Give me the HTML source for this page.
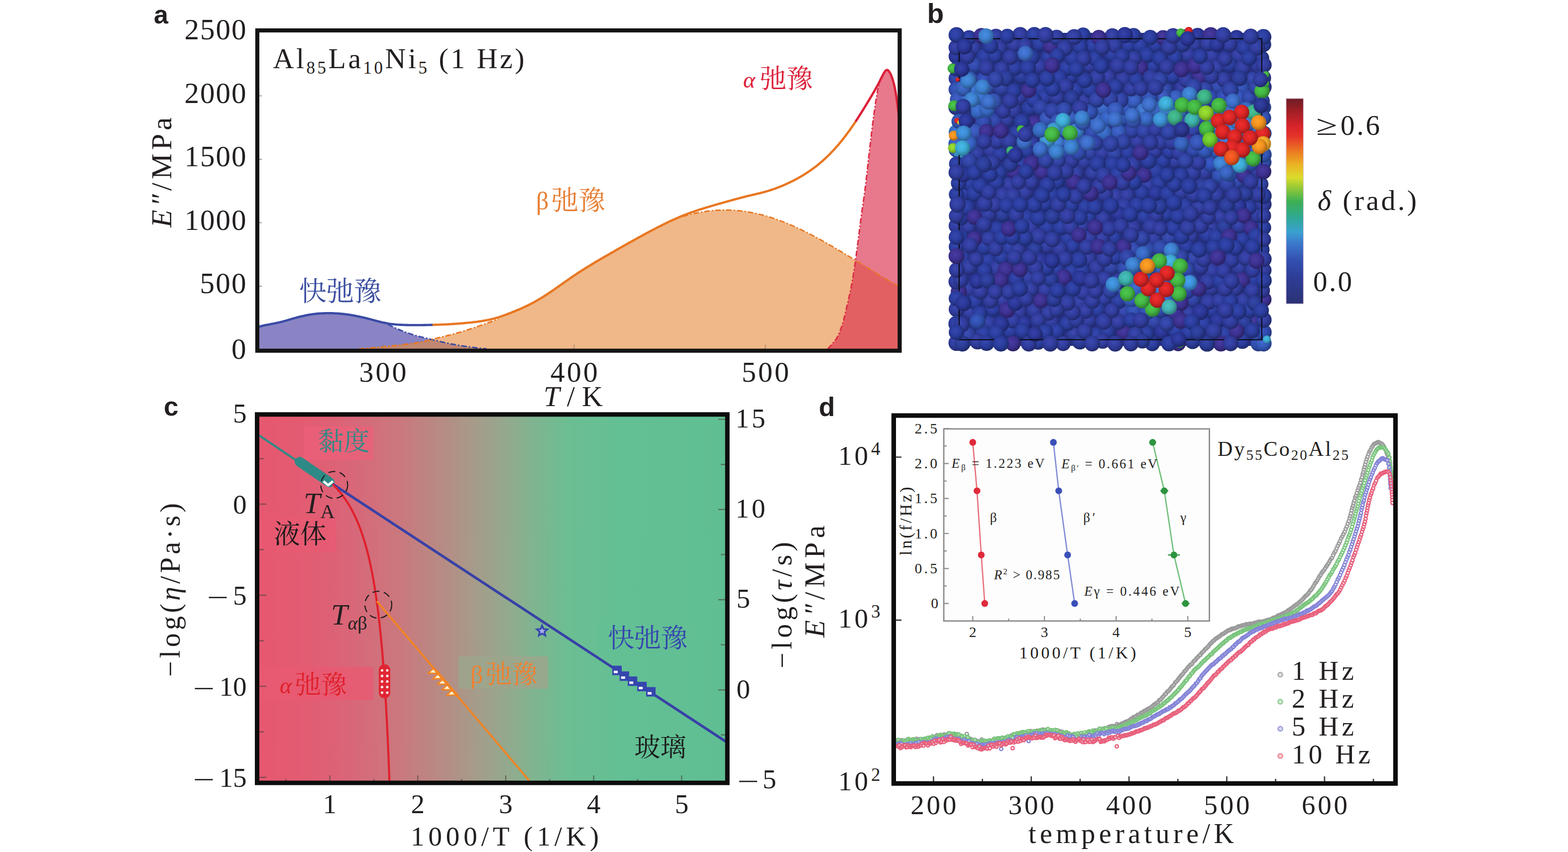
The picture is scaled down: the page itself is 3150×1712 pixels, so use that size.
<!DOCTYPE html>
<html><head><meta charset="utf-8"><title>Figure</title>
<style>
html,body{margin:0;padding:0;background:#fff}
body{width:3150px;height:1712px;overflow:hidden;font-family:"Liberation Serif",serif}
svg{display:block}
</style></head><body>
<svg width="3150" height="1712" viewBox="0 0 3150 1712" font-family="Liberation Serif, serif" fill="#231f20">
<defs>
<radialGradient id="a0" cx="0.42" cy="0.4" r="0.6"><stop offset="0" stop-color="#483ba3"/><stop offset="0.55" stop-color="#3c3090"/><stop offset="1" stop-color="#2a2164"/></radialGradient>
<radialGradient id="a1" cx="0.42" cy="0.4" r="0.6"><stop offset="0" stop-color="#427cdd"/><stop offset="0.55" stop-color="#366cc6"/><stop offset="1" stop-color="#254b8a"/></radialGradient>
<radialGradient id="a2" cx="0.42" cy="0.4" r="0.6"><stop offset="0" stop-color="#426fd0"/><stop offset="0.55" stop-color="#3660ba"/><stop offset="1" stop-color="#254382"/></radialGradient>
<radialGradient id="a3" cx="0.42" cy="0.4" r="0.6"><stop offset="0" stop-color="#3548b0"/><stop offset="0.55" stop-color="#2a3c9c"/><stop offset="1" stop-color="#1d2a6d"/></radialGradient>
<radialGradient id="a4" cx="0.42" cy="0.4" r="0.6"><stop offset="0" stop-color="#3b48b0"/><stop offset="0.55" stop-color="#303c9c"/><stop offset="1" stop-color="#212a6d"/></radialGradient>
<radialGradient id="a5" cx="0.42" cy="0.4" r="0.6"><stop offset="0" stop-color="#3b4fb6"/><stop offset="0.55" stop-color="#3042a2"/><stop offset="1" stop-color="#212e71"/></radialGradient>
<radialGradient id="a6" cx="0.42" cy="0.4" r="0.6"><stop offset="0" stop-color="#3b55bd"/><stop offset="0.55" stop-color="#3048a8"/><stop offset="1" stop-color="#213275"/></radialGradient>
<radialGradient id="a7" cx="0.42" cy="0.4" r="0.6"><stop offset="0" stop-color="#3542aa"/><stop offset="0.55" stop-color="#2a3696"/><stop offset="1" stop-color="#1d2569"/></radialGradient>
<radialGradient id="a8" cx="0.42" cy="0.4" r="0.6"><stop offset="0" stop-color="#4269d0"/><stop offset="0.55" stop-color="#365aba"/><stop offset="1" stop-color="#253e82"/></radialGradient>
<radialGradient id="a9" cx="0.42" cy="0.4" r="0.6"><stop offset="0" stop-color="#487cdd"/><stop offset="0.55" stop-color="#3c6cc6"/><stop offset="1" stop-color="#2a4b8a"/></radialGradient>
<radialGradient id="a10" cx="0.42" cy="0.4" r="0.6"><stop offset="0" stop-color="#3548aa"/><stop offset="0.55" stop-color="#2a3c96"/><stop offset="1" stop-color="#1d2a69"/></radialGradient>
<radialGradient id="a11" cx="0.42" cy="0.4" r="0.6"><stop offset="0" stop-color="#3b55c3"/><stop offset="0.55" stop-color="#3048ae"/><stop offset="1" stop-color="#213279"/></radialGradient>
<radialGradient id="a12" cx="0.42" cy="0.4" r="0.6"><stop offset="0" stop-color="#4262ca"/><stop offset="0.55" stop-color="#3654b4"/><stop offset="1" stop-color="#253a7d"/></radialGradient>
<radialGradient id="a13" cx="0.42" cy="0.4" r="0.6"><stop offset="0" stop-color="#3b5cc3"/><stop offset="0.55" stop-color="#304eae"/><stop offset="1" stop-color="#213679"/></radialGradient>
<radialGradient id="a14" cx="0.42" cy="0.4" r="0.6"><stop offset="0" stop-color="#4883e4"/><stop offset="0.55" stop-color="#3c72cc"/><stop offset="1" stop-color="#2a4f8e"/></radialGradient>
<radialGradient id="a15" cx="0.42" cy="0.4" r="0.6"><stop offset="0" stop-color="#4276d7"/><stop offset="0.55" stop-color="#3666c0"/><stop offset="1" stop-color="#254786"/></radialGradient>
<radialGradient id="a16" cx="0.42" cy="0.4" r="0.6"><stop offset="0" stop-color="#426fd7"/><stop offset="0.55" stop-color="#3660c0"/><stop offset="1" stop-color="#254386"/></radialGradient>
<radialGradient id="a17" cx="0.42" cy="0.4" r="0.6"><stop offset="0" stop-color="#3b62ca"/><stop offset="0.55" stop-color="#3054b4"/><stop offset="1" stop-color="#213a7d"/></radialGradient>
<radialGradient id="a18" cx="0.42" cy="0.4" r="0.6"><stop offset="0" stop-color="#4269ca"/><stop offset="0.55" stop-color="#365ab4"/><stop offset="1" stop-color="#253e7d"/></radialGradient>
<radialGradient id="a19" cx="0.42" cy="0.4" r="0.6"><stop offset="0" stop-color="#4889e4"/><stop offset="0.55" stop-color="#3c78cc"/><stop offset="1" stop-color="#2a548e"/></radialGradient>
<radialGradient id="a20" cx="0.42" cy="0.4" r="0.6"><stop offset="0" stop-color="#4883dd"/><stop offset="0.55" stop-color="#3c72c6"/><stop offset="1" stop-color="#2a4f8a"/></radialGradient>
<radialGradient id="a21" cx="0.42" cy="0.4" r="0.6"><stop offset="0" stop-color="#48aae4"/><stop offset="0.55" stop-color="#3c96cc"/><stop offset="1" stop-color="#2a698e"/></radialGradient>
<radialGradient id="a22" cx="0.42" cy="0.4" r="0.6"><stop offset="0" stop-color="#4890e4"/><stop offset="0.55" stop-color="#3c7ecc"/><stop offset="1" stop-color="#2a588e"/></radialGradient>
<radialGradient id="a23" cx="0.42" cy="0.4" r="0.6"><stop offset="0" stop-color="#48a3e4"/><stop offset="0.55" stop-color="#3c90cc"/><stop offset="1" stop-color="#2a648e"/></radialGradient>
<radialGradient id="a24" cx="0.42" cy="0.4" r="0.6"><stop offset="0" stop-color="#3b5cca"/><stop offset="0.55" stop-color="#304eb4"/><stop offset="1" stop-color="#21367d"/></radialGradient>
<radialGradient id="a25" cx="0.42" cy="0.4" r="0.6"><stop offset="0" stop-color="#427cd7"/><stop offset="0.55" stop-color="#366cc0"/><stop offset="1" stop-color="#254b86"/></radialGradient>
<radialGradient id="a26" cx="0.42" cy="0.4" r="0.6"><stop offset="0" stop-color="#48a3ea"/><stop offset="0.55" stop-color="#3c90d2"/><stop offset="1" stop-color="#2a6493"/></radialGradient>
<radialGradient id="a27" cx="0.42" cy="0.4" r="0.6"><stop offset="0" stop-color="#48bdea"/><stop offset="0.55" stop-color="#3ca8d2"/><stop offset="1" stop-color="#2a7593"/></radialGradient>
<radialGradient id="a28" cx="0.42" cy="0.4" r="0.6"><stop offset="0" stop-color="#48c396"/><stop offset="0.55" stop-color="#3cae84"/><stop offset="1" stop-color="#2a795c"/></radialGradient>
<radialGradient id="a29" cx="0.42" cy="0.4" r="0.6"><stop offset="0" stop-color="#48c3bd"/><stop offset="0.55" stop-color="#3caea8"/><stop offset="1" stop-color="#2a7975"/></radialGradient>
<radialGradient id="a30" cx="0.42" cy="0.4" r="0.6"><stop offset="0" stop-color="#4fca4f"/><stop offset="0.55" stop-color="#42b442"/><stop offset="1" stop-color="#2e7d2e"/></radialGradient>
<radialGradient id="a31" cx="0.42" cy="0.4" r="0.6"><stop offset="0" stop-color="#7cdd35"/><stop offset="0.55" stop-color="#6cc62a"/><stop offset="1" stop-color="#4b8a1d"/></radialGradient>
<radialGradient id="a32" cx="0.42" cy="0.4" r="0.6"><stop offset="0" stop-color="#9de435"/><stop offset="0.55" stop-color="#8acc2a"/><stop offset="1" stop-color="#608e1d"/></radialGradient>
<radialGradient id="a33" cx="0.42" cy="0.4" r="0.6"><stop offset="0" stop-color="#3542a3"/><stop offset="0.55" stop-color="#2a3690"/><stop offset="1" stop-color="#1d2564"/></radialGradient>
<radialGradient id="a34" cx="0.42" cy="0.4" r="0.6"><stop offset="0" stop-color="#f12e2e"/><stop offset="0.55" stop-color="#d82424"/><stop offset="1" stop-color="#971919"/></radialGradient>
<radialGradient id="a35" cx="0.42" cy="0.4" r="0.6"><stop offset="0" stop-color="#ffa328"/><stop offset="0.55" stop-color="#f0901e"/><stop offset="1" stop-color="#a86415"/></radialGradient>
<radialGradient id="a36" cx="0.42" cy="0.4" r="0.6"><stop offset="0" stop-color="#ffbd35"/><stop offset="0.55" stop-color="#f0a82a"/><stop offset="1" stop-color="#a8751d"/></radialGradient>
<radialGradient id="a37" cx="0.42" cy="0.4" r="0.6"><stop offset="0" stop-color="#ff6228"/><stop offset="0.55" stop-color="#ea541e"/><stop offset="1" stop-color="#a33a15"/></radialGradient>
<radialGradient id="a38" cx="0.42" cy="0.4" r="0.6"><stop offset="0" stop-color="#489dea"/><stop offset="0.55" stop-color="#3c8ad2"/><stop offset="1" stop-color="#2a6093"/></radialGradient>
<radialGradient id="a39" cx="0.42" cy="0.4" r="0.6"><stop offset="0" stop-color="#48a3f1"/><stop offset="0.55" stop-color="#3c90d8"/><stop offset="1" stop-color="#2a6497"/></radialGradient>
<radialGradient id="a40" cx="0.42" cy="0.4" r="0.6"><stop offset="0" stop-color="#4fc3c3"/><stop offset="0.55" stop-color="#42aeae"/><stop offset="1" stop-color="#2e7979"/></radialGradient>
<radialGradient id="a41" cx="0.42" cy="0.4" r="0.6"><stop offset="0" stop-color="#fff73b"/><stop offset="0.55" stop-color="#eade30"/><stop offset="1" stop-color="#a39b21"/></radialGradient>
<radialGradient id="a42" cx="0.42" cy="0.4" r="0.6"><stop offset="0" stop-color="#48c37c"/><stop offset="0.55" stop-color="#3cae6c"/><stop offset="1" stop-color="#2a794b"/></radialGradient>
<linearGradient id="cb" x1="0" y1="0" x2="0" y2="1"><stop offset="0" stop-color="#6e1c24"/><stop offset="0.06" stop-color="#a01f25"/><stop offset="0.135" stop-color="#d9232a"/><stop offset="0.184" stop-color="#e4342a"/><stop offset="0.257" stop-color="#ec7a22"/><stop offset="0.322" stop-color="#ebb324"/><stop offset="0.384" stop-color="#dcdc2c"/><stop offset="0.429" stop-color="#9ccb34"/><stop offset="0.502" stop-color="#3db054"/><stop offset="0.584" stop-color="#2ea896"/><stop offset="0.649" stop-color="#3aa2d0"/><stop offset="0.706" stop-color="#3c78cc"/><stop offset="0.788" stop-color="#3350b0"/><stop offset="0.869" stop-color="#2e3e98"/><stop offset="1" stop-color="#2b3274"/></linearGradient>
<linearGradient id="cg" gradientUnits="userSpaceOnUse" x1="521" y1="0" x2="1457" y2="0"><stop offset="0.0000" stop-color="#e6586f"/><stop offset="0.1058" stop-color="#e25c72"/><stop offset="0.1870" stop-color="#da6578"/><stop offset="0.3066" stop-color="#c9797e"/><stop offset="0.3868" stop-color="#b88a84"/><stop offset="0.4658" stop-color="#a59c8a"/><stop offset="0.5459" stop-color="#8fac8e"/><stop offset="0.5855" stop-color="#80b490"/><stop offset="0.6645" stop-color="#6cbe93"/><stop offset="0.7842" stop-color="#63c094"/><stop offset="1.0000" stop-color="#5fbe92"/></linearGradient>
<marker id="m1" markerUnits="userSpaceOnUse" markerWidth="12" markerHeight="12" refX="5" refY="5"><circle cx="5" cy="5" r="3.3" fill="#fff" fill-opacity="0.45" stroke="#9a9a9a" stroke-width="2.5"/></marker>
<marker id="m2" markerUnits="userSpaceOnUse" markerWidth="12" markerHeight="12" refX="5" refY="5"><circle cx="5" cy="5" r="3.3" fill="#fff" fill-opacity="0.45" stroke="#79c47c" stroke-width="2.5"/></marker>
<marker id="m3" markerUnits="userSpaceOnUse" markerWidth="12" markerHeight="12" refX="5" refY="5"><circle cx="5" cy="5" r="3.3" fill="#fff" fill-opacity="0.45" stroke="#8484d8" stroke-width="2.5"/></marker>
<marker id="m4" markerUnits="userSpaceOnUse" markerWidth="12" markerHeight="12" refX="5" refY="5"><circle cx="5" cy="5" r="3.3" fill="#fff" fill-opacity="0.45" stroke="#e8607c" stroke-width="2.5"/></marker>
</defs>
<g id="panelA">
<text x="309.0" y="47.0" font-size="52" font-weight="bold" font-family="Liberation Sans, sans-serif">a</text>
<text x="494.5" y="720.5" font-size="59" text-anchor="end" textLength="29.0">0</text>
<text x="494.5" y="589.0" font-size="59" text-anchor="end" textLength="93.0">500</text>
<text x="494.5" y="461.5" font-size="59" text-anchor="end" textLength="124.0">1000</text>
<text x="494.5" y="334.0" font-size="59" text-anchor="end" textLength="124.0">1500</text>
<text x="494.5" y="206.5" font-size="59" text-anchor="end" textLength="124.0">2000</text>
<text x="494.5" y="79.0" font-size="59" text-anchor="end" textLength="124.0">2500</text>
<text x="769.0" y="767.0" font-size="58" text-anchor="middle" textLength="95.0">300</text>
<text x="1153.3" y="767.0" font-size="58" text-anchor="middle" textLength="95.0">400</text>
<text x="1537.6" y="767.0" font-size="58" text-anchor="middle" textLength="95.0">500</text>
<text x="1092.0" y="816.0" font-size="58" textLength="119.0"><tspan font-style="italic">T</tspan>/K</text>
<text x="344.0" y="457.0" font-size="58" textLength="221.0" transform="rotate(-90 344.0 457.0)"><tspan font-style="italic">E″</tspan>/MPa</text>
<path d="M517.0 702.0 L517.0 657.5 L521.4 656.2 L525.9 655.0 L530.3 654.0 L534.8 653.0 L539.2 652.1 L543.7 651.3 L548.1 650.4 L552.6 649.6 L557.0 648.7 L561.5 647.7 L565.9 646.6 L570.4 645.4 L574.8 644.1 L579.3 642.9 L583.7 641.6 L588.2 640.3 L592.6 639.0 L597.1 637.8 L601.5 636.6 L606.0 635.5 L610.4 634.5 L614.9 633.6 L619.3 632.7 L623.8 632.0 L628.2 631.3 L632.7 630.8 L637.1 630.3 L641.6 629.9 L646.0 629.6 L650.5 629.5 L654.9 629.3 L659.4 629.3 L663.8 629.3 L668.3 629.4 L672.7 629.6 L677.2 629.8 L681.6 630.1 L686.1 630.5 L690.5 631.0 L695.0 631.5 L699.4 632.1 L703.9 632.8 L708.3 633.5 L712.8 634.3 L717.2 635.2 L721.7 636.1 L726.1 637.1 L730.6 638.2 L735.0 639.2 L739.5 640.4 L743.9 641.5 L748.4 642.7 L752.8 643.9 L757.3 645.0 L761.7 646.2 L766.2 647.2 L770.6 648.3 L775.1 649.2 L779.5 650.0 L779.5 652.0 L784.6 654.5 L789.7 656.9 L794.7 659.3 L799.8 661.5 L804.9 663.6 L810.0 665.7 L815.0 667.6 L820.1 669.4 L825.2 671.1 L830.3 672.7 L835.3 674.2 L840.4 675.6 L845.5 676.9 L850.6 678.2 L855.7 679.4 L860.7 680.6 L865.8 681.9 L870.9 683.1 L876.0 684.3 L881.0 685.6 L886.1 686.8 L891.2 687.9 L896.3 689.1 L901.3 690.1 L906.4 691.2 L911.5 692.1 L916.6 693.0 L921.7 693.9 L926.7 694.7 L931.8 695.5 L936.9 696.2 L942.0 696.9 L947.0 697.6 L952.1 698.3 L957.2 698.9 L962.3 699.5 L967.3 700.1 L972.4 700.6 L977.5 701.0Z" fill="#3c329d" fill-opacity="0.6"/>
<path d="M721.3 701.0 L727.0 700.6 L732.7 700.2 L738.4 699.7 L744.1 699.3 L749.8 698.8 L755.5 698.3 L761.2 697.7 L766.9 697.2 L772.6 696.6 L778.3 696.0 L784.0 695.4 L789.7 694.8 L795.5 694.2 L801.2 693.5 L806.9 692.8 L812.6 692.1 L818.3 691.4 L824.0 690.6 L829.7 689.8 L835.4 688.9 L841.1 688.0 L846.8 687.0 L852.5 685.9 L858.2 684.5 L863.9 683.0 L869.6 681.5 L875.3 680.1 L881.0 678.7 L886.7 677.3 L892.4 675.9 L898.1 674.5 L903.8 673.1 L909.5 671.6 L915.2 670.1 L920.9 668.5 L926.6 666.9 L932.4 665.1 L938.1 663.3 L943.8 661.4 L949.5 659.5 L955.2 657.6 L960.9 655.6 L966.6 653.7 L972.3 651.7 L978.0 649.6 L983.7 647.5 L989.4 645.4 L995.1 643.2 L1000.8 641.0 L1000.8 637.7 L1003.5 636.8 L1006.2 635.9 L1008.9 635.0 L1011.6 634.0 L1014.3 633.1 L1017.0 632.1 L1019.7 631.1 L1022.4 630.0 L1025.1 629.0 L1027.8 627.9 L1030.5 626.8 L1033.2 625.7 L1035.9 624.6 L1038.5 623.5 L1041.2 622.3 L1043.9 621.2 L1046.6 620.0 L1049.3 618.8 L1052.0 617.6 L1054.7 616.3 L1057.4 615.0 L1060.1 613.7 L1062.8 612.4 L1065.5 611.1 L1068.2 609.7 L1070.9 608.2 L1073.6 606.8 L1076.3 605.3 L1079.0 603.7 L1081.7 602.2 L1084.4 600.6 L1087.1 598.9 L1089.8 597.3 L1092.5 595.6 L1095.2 593.9 L1097.9 592.1 L1100.6 590.4 L1103.3 588.6 L1106.0 586.8 L1108.7 584.9 L1111.3 583.1 L1114.0 581.2 L1116.7 579.3 L1119.4 577.4 L1122.1 575.5 L1124.8 573.6 L1127.5 571.7 L1130.2 569.8 L1132.9 567.9 L1135.6 566.0 L1138.3 564.1 L1141.0 562.2 L1143.7 560.3 L1146.4 558.5 L1149.1 556.6 L1151.8 554.8 L1154.5 553.0 L1157.2 551.2 L1159.9 549.4 L1162.6 547.6 L1165.3 545.9 L1168.0 544.1 L1170.7 542.4 L1173.4 540.7 L1176.1 539.0 L1178.8 537.4 L1181.5 535.7 L1184.1 534.0 L1186.8 532.4 L1189.5 530.8 L1192.2 529.2 L1194.9 527.5 L1197.6 525.9 L1200.3 524.3 L1203.0 522.8 L1205.7 521.2 L1208.4 519.6 L1211.1 518.0 L1213.8 516.5 L1216.5 514.9 L1219.2 513.3 L1221.9 511.8 L1224.6 510.2 L1227.3 508.7 L1230.0 507.1 L1232.7 505.6 L1235.4 504.0 L1238.1 502.5 L1240.8 501.0 L1243.5 499.4 L1246.2 497.9 L1248.9 496.4 L1251.6 494.8 L1254.3 493.3 L1257.0 491.8 L1259.6 490.3 L1262.3 488.7 L1265.0 487.2 L1267.7 485.7 L1270.4 484.2 L1273.1 482.7 L1275.8 481.2 L1278.5 479.7 L1281.2 478.2 L1283.9 476.7 L1286.6 475.3 L1289.3 473.8 L1292.0 472.3 L1294.7 470.9 L1297.4 469.4 L1300.1 468.0 L1302.8 466.5 L1305.5 465.1 L1308.2 463.6 L1310.9 462.2 L1313.6 460.8 L1316.3 459.4 L1319.0 458.0 L1321.7 456.6 L1324.4 455.2 L1327.1 453.8 L1329.8 452.5 L1332.4 451.1 L1335.1 449.8 L1337.8 448.5 L1340.5 447.2 L1343.2 445.9 L1345.9 444.6 L1348.6 443.4 L1351.3 442.1 L1354.0 440.9 L1356.7 439.8 L1359.4 438.9 L1362.1 438.0 L1364.8 437.1 L1367.5 436.3 L1370.2 435.4 L1372.9 434.6 L1375.6 433.9 L1378.3 433.1 L1381.0 432.4 L1383.7 431.7 L1386.4 431.0 L1389.1 430.3 L1391.8 429.7 L1394.5 429.1 L1397.2 428.5 L1399.9 427.9 L1402.6 427.4 L1405.2 426.8 L1407.9 426.4 L1410.6 425.9 L1413.3 425.5 L1416.0 425.0 L1418.7 424.7 L1421.4 424.3 L1424.1 424.0 L1426.8 423.7 L1429.5 423.4 L1432.2 423.1 L1434.9 422.9 L1437.6 422.7 L1440.3 422.5 L1443.0 422.4 L1445.7 422.2 L1448.4 422.1 L1451.1 422.1 L1453.8 422.0 L1456.5 422.0 L1459.2 422.0 L1461.9 422.0 L1464.6 422.1 L1467.3 422.2 L1470.0 422.3 L1472.7 422.5 L1475.4 422.6 L1478.0 422.8 L1480.7 423.0 L1483.4 423.3 L1486.1 423.6 L1488.8 423.9 L1491.5 424.2 L1494.2 424.5 L1496.9 424.9 L1499.6 425.3 L1502.3 425.8 L1505.0 426.2 L1507.7 426.7 L1510.4 427.2 L1513.1 427.7 L1515.8 428.3 L1518.5 428.9 L1521.2 429.5 L1523.9 430.1 L1526.6 430.8 L1529.3 431.4 L1532.0 432.1 L1534.7 432.9 L1537.4 433.6 L1540.1 434.4 L1542.8 435.2 L1545.5 436.0 L1548.2 436.8 L1550.8 437.7 L1553.5 438.6 L1556.2 439.5 L1558.9 440.4 L1561.6 441.4 L1564.3 442.4 L1567.0 443.4 L1569.7 444.4 L1572.4 445.4 L1575.1 446.5 L1577.8 447.5 L1580.5 448.6 L1583.2 449.8 L1585.9 450.9 L1588.6 452.0 L1591.3 453.2 L1594.0 454.4 L1596.7 455.6 L1599.4 456.8 L1602.1 458.1 L1604.8 459.3 L1607.5 460.6 L1610.2 461.9 L1612.9 463.2 L1615.6 464.5 L1618.3 465.9 L1621.0 467.2 L1623.7 468.6 L1626.3 470.0 L1629.0 471.4 L1631.7 472.8 L1634.4 474.2 L1637.1 475.6 L1639.8 477.1 L1642.5 478.5 L1645.2 480.0 L1647.9 481.5 L1650.6 483.0 L1653.3 484.5 L1656.0 486.0 L1658.7 487.5 L1661.4 489.0 L1664.1 490.6 L1666.8 492.1 L1669.5 493.7 L1672.2 495.3 L1674.9 496.8 L1677.6 498.4 L1680.3 500.0 L1683.0 501.6 L1685.7 503.2 L1688.4 504.8 L1691.1 506.4 L1693.8 508.0 L1696.5 509.7 L1699.1 511.3 L1701.8 512.9 L1704.5 514.6 L1707.2 516.2 L1709.9 517.9 L1712.6 519.5 L1715.3 521.2 L1718.0 522.8 L1720.7 524.5 L1723.4 526.1 L1726.1 527.8 L1728.8 529.4 L1731.5 531.1 L1734.2 532.7 L1736.9 534.4 L1739.6 536.1 L1742.3 537.7 L1745.0 539.4 L1747.7 541.0 L1750.4 542.7 L1753.1 544.3 L1755.8 546.0 L1758.5 547.6 L1761.2 549.3 L1763.9 550.9 L1766.6 552.5 L1769.3 554.2 L1771.9 555.8 L1774.6 557.4 L1777.3 559.1 L1780.0 560.7 L1782.7 562.3 L1785.4 563.9 L1788.1 565.5 L1790.8 567.1 L1793.5 568.7 L1796.2 570.3 L1798.9 571.8 L1801.6 573.4 L1804.3 575.0 L1807.0 576.5 L1807.0 702.0Z" fill="#e68939" fill-opacity="0.6"/>
<path d="M1663.0 701.0 L1664.3 699.6 L1665.7 698.2 L1667.0 696.7 L1668.4 695.2 L1669.7 693.7 L1671.1 692.1 L1672.4 690.5 L1673.7 689.0 L1675.1 687.4 L1676.4 685.8 L1677.8 684.1 L1679.1 682.2 L1680.4 680.2 L1681.8 678.0 L1683.1 675.4 L1684.5 672.6 L1685.8 669.5 L1687.2 666.2 L1688.5 662.7 L1689.8 659.0 L1691.2 655.1 L1692.5 651.0 L1693.9 646.5 L1695.2 641.6 L1696.5 636.3 L1697.9 630.7 L1699.2 625.0 L1700.6 619.2 L1701.9 613.4 L1703.3 607.6 L1704.6 601.8 L1705.9 595.8 L1707.3 589.7 L1708.6 583.3 L1710.0 576.6 L1711.3 569.5 L1712.6 562.0 L1714.0 554.2 L1715.3 546.0 L1716.7 537.4 L1718.0 528.5 L1719.4 518.9 L1720.7 508.6 L1722.0 498.1 L1723.4 487.6 L1724.7 477.3 L1726.1 466.8 L1727.4 456.2 L1728.7 445.8 L1730.1 435.4 L1731.4 425.4 L1732.8 415.9 L1734.1 406.7 L1735.5 397.5 L1736.8 388.1 L1738.1 378.0 L1739.5 367.2 L1740.8 355.5 L1742.2 343.5 L1743.5 331.3 L1744.8 319.3 L1746.2 307.6 L1747.5 295.8 L1748.9 284.0 L1750.2 272.6 L1751.6 261.5 L1752.9 250.9 L1754.2 240.5 L1755.6 230.3 L1756.9 220.5 L1758.3 211.2 L1759.6 202.4 L1760.9 194.3 L1762.3 186.4 L1763.6 179.0 L1765.0 172.4 L1766.3 166.8 L1767.7 162.0 L1769.0 158.0 L1769.0 159.6 L1770.0 157.6 L1770.9 155.7 L1771.9 153.8 L1772.9 151.9 L1773.9 150.0 L1774.8 148.3 L1775.8 146.6 L1776.8 145.0 L1777.8 143.6 L1778.7 142.4 L1779.7 141.4 L1780.7 140.8 L1781.7 140.6 L1782.6 140.7 L1783.6 141.2 L1784.6 141.9 L1785.6 143.0 L1786.5 144.3 L1787.5 145.8 L1788.5 147.6 L1789.5 149.5 L1790.4 151.7 L1791.4 154.2 L1792.4 156.9 L1793.4 159.9 L1794.3 163.2 L1795.3 166.7 L1796.3 170.7 L1797.3 175.1 L1798.2 179.9 L1799.2 185.2 L1800.2 191.1 L1801.2 197.6 L1802.1 204.6 L1803.1 211.9 L1804.1 219.5 L1805.1 227.3 L1806.0 235.0 L1807.0 235.0 L1807.0 702.0Z" fill="#dc314e" fill-opacity="0.65"/>
<path d="M779.5 652.0 L784.6 654.5 L789.7 656.9 L794.7 659.3 L799.8 661.5 L804.9 663.6 L810.0 665.7 L815.0 667.6 L820.1 669.4 L825.2 671.1 L830.3 672.7 L835.3 674.2 L840.4 675.6 L845.5 676.9 L850.6 678.2 L855.7 679.4 L860.7 680.6 L865.8 681.9 L870.9 683.1 L876.0 684.3 L881.0 685.6 L886.1 686.8 L891.2 687.9 L896.3 689.1 L901.3 690.1 L906.4 691.2 L911.5 692.1 L916.6 693.0 L921.7 693.9 L926.7 694.7 L931.8 695.5 L936.9 696.2 L942.0 696.9 L947.0 697.6 L952.1 698.3 L957.2 698.9 L962.3 699.5 L967.3 700.1 L972.4 700.6 L977.5 701.0" fill="none" stroke="#3a4ba5" stroke-width="3" stroke-dasharray="11 4 3 4"/>
<path d="M721.3 701.0 L727.0 700.6 L732.7 700.2 L738.4 699.7 L744.1 699.3 L749.8 698.8 L755.5 698.3 L761.2 697.7 L766.9 697.2 L772.6 696.6 L778.3 696.0 L784.0 695.4 L789.7 694.8 L795.5 694.2 L801.2 693.5 L806.9 692.8 L812.6 692.1 L818.3 691.4 L824.0 690.6 L829.7 689.8 L835.4 688.9 L841.1 688.0 L846.8 687.0 L852.5 685.9 L858.2 684.5 L863.9 683.0 L869.6 681.5 L875.3 680.1 L881.0 678.7 L886.7 677.3 L892.4 675.9 L898.1 674.5 L903.8 673.1 L909.5 671.6 L915.2 670.1 L920.9 668.5 L926.6 666.9 L932.4 665.1 L938.1 663.3 L943.8 661.4 L949.5 659.5 L955.2 657.6 L960.9 655.6 L966.6 653.7 L972.3 651.7 L978.0 649.6 L983.7 647.5 L989.4 645.4 L995.1 643.2 L1000.8 641.0" fill="none" stroke="#e87722" stroke-width="3" stroke-dasharray="11 4 3 4"/>
<path d="M1372.0 434.9 L1375.7 433.8 L1379.3 432.8 L1383.0 431.8 L1386.6 430.9 L1390.3 430.0 L1393.9 429.2 L1397.6 428.4 L1401.2 427.6 L1404.9 426.9 L1408.6 426.2 L1412.2 425.6 L1415.9 425.1 L1419.5 424.5 L1423.2 424.1 L1426.8 423.7 L1430.5 423.3 L1434.1 422.9 L1437.8 422.7 L1441.5 422.4 L1445.1 422.3 L1448.8 422.1 L1452.4 422.0 L1456.1 422.0 L1459.7 422.0 L1463.4 422.1 L1467.0 422.2 L1470.7 422.3 L1474.4 422.6 L1478.0 422.8 L1481.7 423.1 L1485.3 423.5 L1489.0 423.9 L1492.6 424.3 L1496.3 424.8 L1499.9 425.4 L1503.6 426.0 L1507.3 426.6 L1510.9 427.3 L1514.6 428.0 L1518.2 428.8 L1521.9 429.6 L1525.5 430.5 L1529.2 431.4 L1532.8 432.4 L1536.5 433.4 L1540.2 434.4 L1543.8 435.5 L1547.5 436.6 L1551.1 437.8 L1554.8 439.0 L1558.4 440.3 L1562.1 441.6 L1565.7 442.9 L1569.4 444.3 L1573.1 445.7 L1576.7 447.1 L1580.4 448.6 L1584.0 450.1 L1587.7 451.6 L1591.3 453.2 L1595.0 454.8 L1598.6 456.5 L1602.3 458.2 L1605.9 459.9 L1609.6 461.6 L1613.3 463.4 L1616.9 465.2 L1620.6 467.0 L1624.2 468.9 L1627.9 470.8 L1631.5 472.7 L1635.2 474.6 L1638.8 476.5 L1642.5 478.5 L1646.2 480.5 L1649.8 482.5 L1653.5 484.6 L1657.1 486.6 L1660.8 488.7 L1664.4 490.8 L1668.1 492.9 L1671.7 495.0 L1675.4 497.1 L1679.1 499.3 L1682.7 501.5 L1686.4 503.6 L1690.0 505.8 L1693.7 508.0 L1697.3 510.2 L1701.0 512.4 L1704.6 514.6 L1708.3 516.9 L1712.0 519.1 L1715.6 521.3 L1719.3 523.6 L1722.9 525.8 L1726.6 528.1 L1730.2 530.3 L1733.9 532.6 L1737.5 534.8 L1741.2 537.0 L1744.9 539.3 L1748.5 541.5 L1752.2 543.8 L1755.8 546.0 L1759.5 548.2 L1763.1 550.5 L1766.8 552.7 L1770.4 554.9 L1774.1 557.1 L1777.8 559.3 L1781.4 561.5 L1785.1 563.7 L1788.7 565.8 L1792.4 568.0 L1796.0 570.2 L1799.7 572.3 L1803.3 574.4 L1807.0 576.5" fill="none" stroke="#e87722" stroke-width="2.8" stroke-dasharray="11 4 3 4"/>
<path d="M1663.0 701.0 L1664.3 699.6 L1665.7 698.2 L1667.0 696.7 L1668.4 695.2 L1669.7 693.7 L1671.1 692.1 L1672.4 690.5 L1673.7 689.0 L1675.1 687.4 L1676.4 685.8 L1677.8 684.1 L1679.1 682.2 L1680.4 680.2 L1681.8 678.0 L1683.1 675.4 L1684.5 672.6 L1685.8 669.5 L1687.2 666.2 L1688.5 662.7 L1689.8 659.0 L1691.2 655.1 L1692.5 651.0 L1693.9 646.5 L1695.2 641.6 L1696.5 636.3 L1697.9 630.7 L1699.2 625.0 L1700.6 619.2 L1701.9 613.4 L1703.3 607.6 L1704.6 601.8 L1705.9 595.8 L1707.3 589.7 L1708.6 583.3 L1710.0 576.6 L1711.3 569.5 L1712.6 562.0 L1714.0 554.2 L1715.3 546.0 L1716.7 537.4 L1718.0 528.5 L1719.4 518.9 L1720.7 508.6 L1722.0 498.1 L1723.4 487.6 L1724.7 477.3 L1726.1 466.8 L1727.4 456.2 L1728.7 445.8 L1730.1 435.4 L1731.4 425.4 L1732.8 415.9 L1734.1 406.7 L1735.5 397.5 L1736.8 388.1 L1738.1 378.0 L1739.5 367.2 L1740.8 355.5 L1742.2 343.5 L1743.5 331.3 L1744.8 319.3 L1746.2 307.6 L1747.5 295.8 L1748.9 284.0 L1750.2 272.6 L1751.6 261.5 L1752.9 250.9 L1754.2 240.5 L1755.6 230.3 L1756.9 220.5 L1758.3 211.2 L1759.6 202.4 L1760.9 194.3 L1762.3 186.4 L1763.6 179.0 L1765.0 172.4 L1766.3 166.8 L1767.7 162.0 L1769.0 158.0" fill="none" stroke="#dc2d46" stroke-width="3" stroke-dasharray="11 4 3 4"/>
<path d="M517.0 657.5 L520.0 656.6 L522.9 655.8 L525.9 655.0 L528.8 654.3 L531.8 653.6 L534.8 653.0 L537.7 652.4 L540.7 651.9 L543.7 651.3 L546.6 650.7 L549.6 650.2 L552.5 649.6 L555.5 649.0 L558.5 648.3 L561.4 647.7 L564.4 646.9 L567.4 646.2 L570.3 645.4 L573.3 644.6 L576.2 643.7 L579.2 642.9 L582.2 642.0 L585.1 641.2 L588.1 640.3 L591.1 639.4 L594.0 638.6 L597.0 637.8 L599.9 637.0 L602.9 636.3 L605.9 635.5 L608.8 634.9 L611.8 634.2 L614.8 633.6 L617.7 633.0 L620.7 632.5 L623.6 632.0 L626.6 631.6 L629.6 631.1 L632.5 630.8 L635.5 630.4 L638.4 630.2 L641.4 629.9 L644.4 629.7 L647.3 629.6 L650.3 629.5 L653.3 629.4 L656.2 629.3 L659.2 629.3 L662.1 629.3 L665.1 629.3 L668.1 629.4 L671.0 629.5 L674.0 629.7 L677.0 629.8 L679.9 630.0 L682.9 630.2 L685.8 630.5 L688.8 630.8 L691.8 631.1 L694.7 631.5 L697.7 631.9 L700.7 632.3 L703.6 632.7 L706.6 633.2 L709.5 633.7 L712.5 634.3 L715.5 634.9 L718.4 635.5 L721.4 636.1 L724.4 636.7 L727.3 637.4 L730.3 638.1 L733.2 638.8 L736.2 639.5 L739.2 640.3 L742.1 641.1 L745.1 641.8 L748.1 642.6 L751.0 643.4 L754.0 644.2 L756.9 645.0 L759.9 645.7 L762.9 646.5 L765.8 647.2 L768.8 647.9 L771.7 648.5 L774.7 649.1 L777.7 649.7 L780.6 650.2 L783.6 650.7 L786.6 651.1 L789.5 651.4 L792.5 651.7 L795.4 652.0 L798.4 652.3 L801.4 652.5 L804.3 652.6 L807.3 652.8 L810.3 652.9 L813.2 653.0 L816.2 653.1 L819.1 653.1 L822.1 653.2 L825.1 653.2 L828.0 653.2 L831.0 653.2 L834.0 653.2 L836.9 653.2 L839.9 653.2 L842.8 653.2 L845.8 653.2 L848.8 653.2 L851.7 653.1 L854.7 653.1 L857.7 653.0 L860.6 653.0 L863.6 652.9 L866.5 652.9 L869.5 652.8" fill="none" stroke="#3a4ba5" stroke-width="4.6"/>
<path d="M869.0 652.8 L871.8 652.7 L874.7 652.6 L877.5 652.5 L880.4 652.5 L883.2 652.3 L886.1 652.2 L888.9 652.1 L891.8 652.0 L894.6 651.9 L897.4 651.7 L900.3 651.6 L903.1 651.4 L906.0 651.2 L908.8 651.1 L911.7 650.9 L914.5 650.7 L917.4 650.5 L920.2 650.3 L923.0 650.1 L925.9 649.8 L928.7 649.6 L931.6 649.4 L934.4 649.1 L937.3 648.8 L940.1 648.5 L943.0 648.3 L945.8 648.0 L948.6 647.7 L951.5 647.3 L954.3 647.0 L957.2 646.7 L960.0 646.3 L962.9 645.9 L965.7 645.5 L968.6 645.1 L971.4 644.6 L974.2 644.1 L977.1 643.6 L979.9 643.0 L982.8 642.5 L985.6 641.8 L988.5 641.1 L991.3 640.4 L994.2 639.6 L997.0 638.8 L999.8 638.0 L1002.7 637.1 L1005.5 636.1 L1008.4 635.2 L1011.2 634.2 L1014.1 633.2 L1016.9 632.1 L1019.8 631.0 L1022.6 629.9 L1025.4 628.8 L1028.3 627.7 L1031.1 626.5 L1034.0 625.4 L1036.8 624.2 L1039.7 623.0 L1042.5 621.8 L1045.4 620.6 L1048.2 619.3 L1051.0 618.0 L1053.9 616.7 L1056.7 615.4 L1059.6 614.0 L1062.4 612.6 L1065.3 611.2 L1068.1 609.7 L1071.0 608.2 L1073.8 606.7 L1076.6 605.1 L1079.5 603.5 L1082.3 601.8 L1085.2 600.1 L1088.0 598.4 L1090.9 596.6 L1093.7 594.8 L1096.6 593.0 L1099.4 591.1 L1102.2 589.2 L1105.1 587.3 L1107.9 585.4 L1110.8 583.5 L1113.6 581.5 L1116.5 579.5 L1119.3 577.5 L1122.2 575.5 L1125.0 573.5 L1127.8 571.5 L1130.7 569.5 L1133.5 567.5 L1136.4 565.5 L1139.2 563.5 L1142.1 561.5 L1144.9 559.5 L1147.8 557.5 L1150.6 555.6 L1153.4 553.7 L1156.3 551.8 L1159.1 549.9 L1162.0 548.0 L1164.8 546.2 L1167.7 544.3 L1170.5 542.5 L1173.4 540.7 L1176.2 539.0 L1179.0 537.2 L1181.9 535.4 L1184.7 533.7 L1187.6 532.0 L1190.4 530.2 L1193.3 528.5 L1196.1 526.8 L1199.0 525.1 L1201.8 523.5 L1204.6 521.8 L1207.5 520.1 L1210.3 518.5 L1213.2 516.8 L1216.0 515.2 L1218.9 513.5 L1221.7 511.9 L1224.6 510.3 L1227.4 508.6 L1230.2 507.0 L1233.1 505.4 L1235.9 503.7 L1238.8 502.1 L1241.6 500.5 L1244.5 498.8 L1247.3 497.2 L1250.2 495.6 L1253.0 494.0 L1255.8 492.4 L1258.7 490.8 L1261.5 489.2 L1264.4 487.6 L1267.2 486.0 L1270.1 484.4 L1272.9 482.8 L1275.8 481.2 L1278.6 479.7 L1281.4 478.1 L1284.3 476.5 L1287.1 475.0 L1290.0 473.4 L1292.8 471.9 L1295.7 470.3 L1298.5 468.8 L1301.4 467.3 L1304.2 465.7 L1307.1 464.2 L1309.9 462.7 L1312.7 461.2 L1315.6 459.7 L1318.4 458.3 L1321.3 456.8 L1324.1 455.3 L1327.0 453.9 L1329.8 452.5 L1332.7 451.0 L1335.5 449.6 L1338.3 448.3 L1341.2 446.9 L1344.0 445.5 L1346.9 444.2 L1349.7 442.9 L1352.6 441.6 L1355.4 440.3 L1358.3 439.0 L1361.1 437.8 L1363.9 436.5 L1366.8 435.3 L1369.6 434.2 L1372.5 433.0 L1375.3 431.9 L1378.2 430.8 L1381.0 429.7 L1383.9 428.6 L1386.7 427.6 L1389.5 426.6 L1392.4 425.6 L1395.2 424.6 L1398.1 423.6 L1400.9 422.7 L1403.8 421.7 L1406.6 420.8 L1409.5 419.9 L1412.3 419.0 L1415.1 418.2 L1418.0 417.3 L1420.8 416.4 L1423.7 415.6 L1426.5 414.7 L1429.4 413.9 L1432.2 413.1 L1435.1 412.3 L1437.9 411.4 L1440.7 410.6 L1443.6 409.8 L1446.4 409.0 L1449.3 408.2 L1452.1 407.4 L1455.0 406.6 L1457.8 405.8 L1460.7 405.0 L1463.5 404.2 L1466.3 403.4 L1469.2 402.6 L1472.0 401.8 L1474.9 401.0 L1477.7 400.2 L1480.6 399.4 L1483.4 398.7 L1486.3 397.9 L1489.1 397.2 L1491.9 396.4 L1494.8 395.7 L1497.6 395.0 L1500.5 394.3 L1503.3 393.6 L1506.2 392.9 L1509.0 392.2 L1511.9 391.6 L1514.7 390.9 L1517.5 390.2 L1520.4 389.6 L1523.2 388.9 L1526.1 388.2 L1528.9 387.5 L1531.8 386.7 L1534.6 386.0 L1537.5 385.2 L1540.3 384.4 L1543.1 383.6 L1546.0 382.7 L1548.8 381.8 L1551.7 380.8 L1554.5 379.9 L1557.4 378.8 L1560.2 377.8 L1563.1 376.7 L1565.9 375.6 L1568.7 374.5 L1571.6 373.3 L1574.4 372.1 L1577.3 370.8 L1580.1 369.5 L1583.0 368.2 L1585.8 366.9 L1588.7 365.5 L1591.5 364.1 L1594.3 362.7 L1597.2 361.2 L1600.0 359.7 L1602.9 358.2 L1605.7 356.6 L1608.6 354.9 L1611.4 353.3 L1614.3 351.6 L1617.1 349.8 L1619.9 348.0 L1622.8 346.1 L1625.6 344.2 L1628.5 342.2 L1631.3 340.2 L1634.2 338.1 L1637.0 336.0 L1639.9 333.8 L1642.7 331.6 L1645.5 329.2 L1648.4 326.8 L1651.2 324.4 L1654.1 321.9 L1656.9 319.3 L1659.8 316.6 L1662.6 313.9 L1665.5 311.1 L1668.3 308.3 L1671.1 305.3 L1674.0 302.3 L1676.8 299.2 L1679.7 296.0 L1682.5 292.7 L1685.4 289.4 L1688.2 286.0 L1691.1 282.5 L1693.9 278.9 L1696.7 275.3 L1699.6 271.5 L1702.4 267.7 L1705.3 263.8 L1708.1 259.9 L1711.0 255.8 L1713.8 251.7 L1716.7 247.5 L1719.5 243.2" fill="none" stroke="#e87722" stroke-width="4.6"/>
<path d="M1719.0 244.0 L1720.1 242.3 L1721.2 240.6 L1722.3 239.0 L1723.4 237.2 L1724.5 235.5 L1725.6 233.8 L1726.7 232.1 L1727.8 230.3 L1728.9 228.6 L1730.0 226.8 L1731.1 225.1 L1732.2 223.3 L1733.3 221.5 L1734.4 219.7 L1735.5 217.9 L1736.6 216.2 L1737.7 214.4 L1738.8 212.6 L1739.9 210.7 L1741.0 208.9 L1742.1 207.1 L1743.2 205.3 L1744.3 203.5 L1745.4 201.7 L1746.5 199.8 L1747.6 198.0 L1748.7 196.2 L1749.8 194.4 L1750.9 192.5 L1752.0 190.7 L1753.1 188.8 L1754.2 187.0 L1755.3 185.1 L1756.4 183.2 L1757.5 181.3 L1758.6 179.3 L1759.7 177.4 L1760.8 175.4 L1761.9 173.4 L1763.1 171.3 L1764.2 169.2 L1765.3 167.1 L1766.4 164.9 L1767.5 162.7 L1768.6 160.5 L1769.7 158.3 L1770.8 156.1 L1771.9 153.9 L1773.0 151.8 L1774.1 149.7 L1775.2 147.7 L1776.3 145.8 L1777.4 144.1 L1778.5 142.7 L1779.6 141.6 L1780.7 140.8 L1781.8 140.6 L1782.9 140.8 L1784.0 141.4 L1785.1 142.4 L1786.2 143.8 L1787.3 145.4 L1788.4 147.4 L1789.5 149.6 L1790.6 152.1 L1791.7 154.9 L1792.8 158.1 L1793.9 161.6 L1795.0 165.5 L1796.1 169.9 L1797.2 174.7 L1798.3 180.2 L1799.4 186.3 L1800.5 193.2 L1801.6 200.7 L1802.7 208.8 L1803.8 217.3 L1804.9 226.1 L1806.0 235.0" fill="none" stroke="#dc2039" stroke-width="4.6"/>
<line x1="769.0" y1="692" x2="769.0" y2="701" stroke="#8a7a70" stroke-width="2" opacity="0.6"/>
<line x1="1153.3" y1="692" x2="1153.3" y2="701" stroke="#8a7a70" stroke-width="2" opacity="0.6"/>
<line x1="1537.6" y1="692" x2="1537.6" y2="701" stroke="#8a7a70" stroke-width="2" opacity="0.6"/>
<line x1="521" y1="575.0" x2="526" y2="575.0" stroke="#999" stroke-width="2"/>
<line x1="521" y1="447.5" x2="526" y2="447.5" stroke="#999" stroke-width="2"/>
<line x1="521" y1="320.0" x2="526" y2="320.0" stroke="#999" stroke-width="2"/>
<line x1="521" y1="192.5" x2="526" y2="192.5" stroke="#999" stroke-width="2"/>
<rect x="516.9" y="61.1" width="1290.5" height="643.6" fill="none" stroke="#141414" stroke-width="8.2"/>
<text x="548.6" y="136.6" font-size="58" textLength="505.0">Al<tspan font-size="35" dy="11">85</tspan><tspan dy="-11">La</tspan><tspan font-size="35" dy="11">10</tspan><tspan dy="-11">Ni</tspan><tspan font-size="35" dy="11">5</tspan><tspan dy="-11"> (1 Hz)</tspan></text>
<text x="601.0" y="604.0" font-size="55" fill="#3b4fa0" font-family="Liberation Serif, Noto Serif CJK SC, serif">快弛豫</text>
<text x="1077.0" y="421.0" font-size="50" fill="#e87f35">β</text>
<text x="1108.0" y="421.5" font-size="54" fill="#e87f35" font-family="Liberation Serif, Noto Serif CJK SC, serif">弛豫</text>
<text x="1493.0" y="176.0" font-size="46" fill="#dc2039" font-style="italic">α</text>
<text x="1527.0" y="176.5" font-size="53" fill="#dc2039" font-family="Liberation Serif, Noto Serif CJK SC, serif">弛豫</text>
</g>
<g id="panelB">
<text x="1862.5" y="45.5" font-size="55" font-weight="bold" font-family="Liberation Sans, sans-serif">b</text>
<rect x="1917" y="66" width="626" height="629" fill="#262f84"/>
<circle cx="1943.2" cy="242.2" r="15.4" fill="url(#a0)"/><circle cx="1937.9" cy="266.0" r="15.3" fill="url(#a1)"/><circle cx="2217.5" cy="218.3" r="15.9" fill="url(#a2)"/><circle cx="1935.2" cy="517.8" r="15.6" fill="url(#a3)"/><circle cx="1986.7" cy="649.5" r="16.3" fill="url(#a4)"/><circle cx="1921.5" cy="157.4" r="15.8" fill="url(#a5)"/><circle cx="2177.5" cy="325.1" r="16.1" fill="url(#a4)"/><circle cx="2451.3" cy="436.2" r="15.5" fill="url(#a4)"/><circle cx="2241.1" cy="394.5" r="16.0" fill="url(#a4)"/><circle cx="2194.3" cy="266.8" r="15.3" fill="url(#a6)"/><circle cx="2217.2" cy="600.2" r="15.6" fill="url(#a4)"/><circle cx="2104.3" cy="494.2" r="15.7" fill="url(#a4)"/><circle cx="2387.9" cy="628.9" r="15.1" fill="url(#a4)"/><circle cx="2397.5" cy="519.5" r="15.5" fill="url(#a5)"/><circle cx="2000.1" cy="243.2" r="16.3" fill="url(#a5)"/><circle cx="2298.4" cy="435.4" r="15.7" fill="url(#a3)"/><circle cx="2157.8" cy="671.1" r="15.3" fill="url(#a4)"/><circle cx="2143.9" cy="650.2" r="15.2" fill="url(#a3)"/><circle cx="1995.1" cy="621.1" r="15.8" fill="url(#a3)"/><circle cx="2348.1" cy="478.7" r="15.6" fill="url(#a5)"/><circle cx="2231.9" cy="536.3" r="16.3" fill="url(#a5)"/><circle cx="1946.0" cy="580.7" r="16.2" fill="url(#a4)"/><circle cx="2434.2" cy="460.1" r="15.5" fill="url(#a4)"/><circle cx="2284.7" cy="284.0" r="15.7" fill="url(#a4)"/><circle cx="2045.7" cy="284.2" r="15.1" fill="url(#a4)"/><circle cx="2048.5" cy="108.7" r="15.0" fill="url(#a3)"/><circle cx="2419.3" cy="346.8" r="16.0" fill="url(#a4)"/><circle cx="1944.6" cy="672.9" r="16.1" fill="url(#a5)"/><circle cx="2177.9" cy="202.0" r="15.9" fill="url(#a4)"/><circle cx="2490.1" cy="537.4" r="16.1" fill="url(#a4)"/><circle cx="2099.5" cy="582.8" r="15.3" fill="url(#a4)"/><circle cx="1921.5" cy="112.9" r="15.8" fill="url(#a7)"/><circle cx="2234.7" cy="72.5" r="15.7" fill="url(#a4)"/><circle cx="2314.9" cy="690.5" r="15.2" fill="url(#a3)"/><circle cx="2392.7" cy="474.8" r="15.0" fill="url(#a4)"/><circle cx="1949.4" cy="627.8" r="15.8" fill="url(#a4)"/><circle cx="2257.7" cy="626.8" r="15.9" fill="url(#a5)"/><circle cx="2307.5" cy="373.8" r="16.4" fill="url(#a4)"/><circle cx="2426.0" cy="472.5" r="16.2" fill="url(#a3)"/><circle cx="2333.5" cy="538.9" r="16.1" fill="url(#a8)"/><circle cx="2066.3" cy="558.3" r="15.8" fill="url(#a4)"/><circle cx="2265.3" cy="306.6" r="15.3" fill="url(#a3)"/><circle cx="2028.0" cy="498.8" r="15.7" fill="url(#a3)"/><circle cx="2461.2" cy="328.0" r="15.6" fill="url(#a9)"/><circle cx="2187.8" cy="435.4" r="15.6" fill="url(#a3)"/><circle cx="2385.6" cy="245.4" r="16.3" fill="url(#a5)"/><circle cx="2538.5" cy="457.4" r="15.2" fill="url(#a3)"/><circle cx="2003.6" cy="460.0" r="15.3" fill="url(#a3)"/><circle cx="2529.9" cy="258.5" r="15.1" fill="url(#a9)"/><circle cx="2239.2" cy="476.3" r="15.1" fill="url(#a3)"/><circle cx="2276.6" cy="457.6" r="16.1" fill="url(#a4)"/><circle cx="2526.5" cy="432.3" r="15.6" fill="url(#a4)"/><circle cx="2496.5" cy="480.3" r="15.8" fill="url(#a3)"/><circle cx="2175.9" cy="70.5" r="15.3" fill="url(#a3)"/><circle cx="2014.2" cy="603.2" r="15.2" fill="url(#a4)"/><circle cx="2538.5" cy="601.5" r="15.9" fill="url(#a0)"/><circle cx="2256.5" cy="158.1" r="15.3" fill="url(#a4)"/><circle cx="2446.5" cy="173.7" r="15.2" fill="url(#a6)"/><circle cx="2162.1" cy="347.6" r="16.3" fill="url(#a4)"/><circle cx="1921.5" cy="453.7" r="15.7" fill="url(#a4)"/><circle cx="2077.9" cy="246.4" r="15.1" fill="url(#a0)"/><circle cx="2488.5" cy="112.6" r="16.1" fill="url(#a4)"/><circle cx="1975.6" cy="245.3" r="16.2" fill="url(#a6)"/><circle cx="2360.3" cy="323.4" r="15.5" fill="url(#a4)"/><circle cx="2162.2" cy="180.5" r="15.1" fill="url(#a3)"/><circle cx="2029.1" cy="664.2" r="16.4" fill="url(#a3)"/><circle cx="2534.3" cy="117.0" r="15.5" fill="url(#a10)"/><circle cx="2509.6" cy="416.5" r="15.5" fill="url(#a3)"/><circle cx="2533.2" cy="369.8" r="15.0" fill="url(#a5)"/><circle cx="2187.1" cy="519.3" r="16.1" fill="url(#a4)"/><circle cx="1931.4" cy="139.1" r="16.1" fill="url(#a6)"/><circle cx="2145.1" cy="478.9" r="15.6" fill="url(#a3)"/><circle cx="2434.9" cy="111.8" r="15.9" fill="url(#a4)"/><circle cx="2195.3" cy="92.1" r="15.3" fill="url(#a3)"/><circle cx="2049.5" cy="70.5" r="16.2" fill="url(#a4)"/><circle cx="2273.4" cy="262.4" r="15.5" fill="url(#a5)"/><circle cx="2294.3" cy="387.3" r="15.3" fill="url(#a3)"/><circle cx="2028.5" cy="371.7" r="15.6" fill="url(#a4)"/><circle cx="2535.9" cy="203.0" r="15.1" fill="url(#a11)"/><circle cx="2116.8" cy="303.5" r="16.2" fill="url(#a12)"/><circle cx="2340.6" cy="181.4" r="15.6" fill="url(#a6)"/><circle cx="2298.3" cy="263.6" r="16.1" fill="url(#a5)"/><circle cx="2203.5" cy="673.3" r="15.8" fill="url(#a3)"/><circle cx="2316.8" cy="131.8" r="15.1" fill="url(#a3)"/><circle cx="1938.9" cy="386.9" r="16.1" fill="url(#a3)"/><circle cx="2434.1" cy="622.6" r="16.1" fill="url(#a3)"/><circle cx="2189.9" cy="180.4" r="16.0" fill="url(#a3)"/><circle cx="2336.5" cy="323.8" r="15.1" fill="url(#a3)"/><circle cx="2151.0" cy="152.8" r="15.8" fill="url(#a3)"/><circle cx="1990.0" cy="604.5" r="15.6" fill="url(#a4)"/><circle cx="1946.7" cy="455.2" r="15.1" fill="url(#a4)"/><circle cx="2013.7" cy="430.7" r="16.4" fill="url(#a10)"/><circle cx="2406.0" cy="71.3" r="15.3" fill="url(#a7)"/><circle cx="2190.2" cy="305.9" r="15.7" fill="url(#a5)"/><circle cx="2445.3" cy="134.8" r="15.4" fill="url(#a4)"/><circle cx="2264.8" cy="392.3" r="15.9" fill="url(#a4)"/><circle cx="2376.0" cy="176.3" r="16.1" fill="url(#a4)"/><circle cx="2123.4" cy="364.9" r="15.5" fill="url(#a3)"/><circle cx="2112.6" cy="645.5" r="15.8" fill="url(#a4)"/><circle cx="2258.6" cy="580.7" r="15.5" fill="url(#a12)"/><circle cx="2008.0" cy="347.2" r="15.2" fill="url(#a3)"/><circle cx="2516.5" cy="158.9" r="15.1" fill="url(#a5)"/><circle cx="2059.5" cy="386.4" r="15.8" fill="url(#a4)"/><circle cx="2267.3" cy="91.1" r="15.5" fill="url(#a3)"/><circle cx="2410.1" cy="154.1" r="16.1" fill="url(#a0)"/><circle cx="2187.3" cy="643.2" r="16.0" fill="url(#a4)"/><circle cx="1956.7" cy="96.3" r="15.3" fill="url(#a4)"/><circle cx="2047.3" cy="195.2" r="16.2" fill="url(#a4)"/><circle cx="2488.9" cy="413.4" r="15.2" fill="url(#a7)"/><circle cx="2000.7" cy="73.6" r="15.8" fill="url(#a4)"/><circle cx="2349.8" cy="304.7" r="15.4" fill="url(#a3)"/><circle cx="2538.5" cy="326.1" r="15.8" fill="url(#a13)"/><circle cx="2320.9" cy="260.7" r="15.4" fill="url(#a4)"/><circle cx="2068.1" cy="217.3" r="16.2" fill="url(#a3)"/><circle cx="2443.3" cy="475.8" r="15.8" fill="url(#a3)"/><circle cx="2465.6" cy="245.8" r="15.3" fill="url(#a14)"/><circle cx="2058.9" cy="259.7" r="15.7" fill="url(#a4)"/><circle cx="2153.6" cy="544.3" r="15.1" fill="url(#a3)"/><circle cx="2450.1" cy="352.3" r="15.9" fill="url(#a13)"/><circle cx="2297.5" cy="560.1" r="15.6" fill="url(#a15)"/><circle cx="2291.1" cy="91.0" r="16.3" fill="url(#a3)"/><circle cx="2001.8" cy="366.4" r="15.7" fill="url(#a3)"/><circle cx="2259.5" cy="538.9" r="15.6" fill="url(#a6)"/><circle cx="2112.2" cy="391.0" r="16.4" fill="url(#a3)"/><circle cx="2304.0" cy="669.6" r="15.7" fill="url(#a3)"/><circle cx="2203.0" cy="243.2" r="15.7" fill="url(#a16)"/><circle cx="2258.3" cy="667.7" r="15.5" fill="url(#a0)"/><circle cx="2421.6" cy="179.5" r="15.5" fill="url(#a5)"/><circle cx="2106.0" cy="116.0" r="15.3" fill="url(#a3)"/><circle cx="1985.7" cy="430.2" r="16.2" fill="url(#a4)"/><circle cx="2289.5" cy="520.0" r="16.3" fill="url(#a8)"/><circle cx="2434.5" cy="544.3" r="16.3" fill="url(#a4)"/><circle cx="2088.1" cy="133.2" r="15.6" fill="url(#a4)"/><circle cx="2023.2" cy="240.0" r="15.1" fill="url(#a4)"/><circle cx="2142.9" cy="137.2" r="16.2" fill="url(#a3)"/><circle cx="2461.5" cy="670.6" r="16.1" fill="url(#a3)"/><circle cx="2008.0" cy="96.6" r="16.0" fill="url(#a4)"/><circle cx="1921.5" cy="300.9" r="15.5" fill="url(#a8)"/><circle cx="2051.8" cy="153.4" r="16.0" fill="url(#a10)"/><circle cx="2257.6" cy="413.7" r="16.0" fill="url(#a4)"/><circle cx="2450.9" cy="220.1" r="16.4" fill="url(#a15)"/><circle cx="2252.8" cy="237.6" r="15.4" fill="url(#a17)"/><circle cx="1976.5" cy="159.9" r="15.1" fill="url(#a11)"/><circle cx="2432.7" cy="578.6" r="16.3" fill="url(#a4)"/><circle cx="2205.8" cy="622.1" r="15.7" fill="url(#a3)"/><circle cx="1921.5" cy="95.3" r="16.0" fill="url(#a4)"/><circle cx="2431.1" cy="244.2" r="15.9" fill="url(#a18)"/><circle cx="2372.0" cy="387.2" r="15.3" fill="url(#a4)"/><circle cx="2538.5" cy="310.6" r="16.2" fill="url(#a17)"/><circle cx="2482.9" cy="365.3" r="16.0" fill="url(#a6)"/><circle cx="2168.2" cy="608.8" r="16.1" fill="url(#a4)"/><circle cx="2304.8" cy="110.8" r="16.0" fill="url(#a3)"/><circle cx="2233.9" cy="109.3" r="16.2" fill="url(#a3)"/><circle cx="2396.5" cy="260.1" r="15.8" fill="url(#a5)"/><circle cx="2124.0" cy="288.3" r="15.5" fill="url(#a19)"/><circle cx="2281.3" cy="672.1" r="16.0" fill="url(#a4)"/><circle cx="1984.7" cy="523.8" r="16.3" fill="url(#a3)"/><circle cx="1958.4" cy="605.9" r="16.2" fill="url(#a3)"/><circle cx="2103.8" cy="457.2" r="15.6" fill="url(#a3)"/><circle cx="2371.3" cy="221.3" r="15.3" fill="url(#a20)"/><circle cx="2322.0" cy="90.5" r="15.4" fill="url(#a3)"/><circle cx="2277.6" cy="500.1" r="15.1" fill="url(#a6)"/><circle cx="2412.2" cy="536.9" r="15.3" fill="url(#a4)"/><circle cx="2333.9" cy="238.9" r="16.2" fill="url(#a17)"/><circle cx="2077.8" cy="70.5" r="16.3" fill="url(#a3)"/><circle cx="2432.2" cy="70.7" r="16.3" fill="url(#a0)"/><circle cx="2538.5" cy="89.2" r="15.3" fill="url(#a3)"/><circle cx="2538.5" cy="410.6" r="16.0" fill="url(#a4)"/><circle cx="2522.1" cy="560.8" r="16.0" fill="url(#a3)"/><circle cx="2358.8" cy="502.1" r="15.9" fill="url(#a5)"/><circle cx="2290.7" cy="136.0" r="15.5" fill="url(#a0)"/><circle cx="2203.0" cy="538.2" r="15.7" fill="url(#a4)"/><circle cx="2382.2" cy="199.7" r="15.2" fill="url(#a12)"/><circle cx="2123.2" cy="540.6" r="16.0" fill="url(#a3)"/><circle cx="2214.1" cy="308.0" r="15.5" fill="url(#a4)"/><circle cx="2473.8" cy="523.2" r="15.4" fill="url(#a4)"/><circle cx="2246.6" cy="646.8" r="16.1" fill="url(#a4)"/><circle cx="2037.6" cy="89.2" r="15.5" fill="url(#a4)"/><circle cx="2098.5" cy="409.0" r="16.0" fill="url(#a3)"/><circle cx="2225.9" cy="665.7" r="15.7" fill="url(#a3)"/><circle cx="2538.5" cy="542.9" r="15.9" fill="url(#a4)"/><circle cx="2036.9" cy="222.0" r="16.1" fill="url(#a4)"/><circle cx="2446.4" cy="643.6" r="15.6" fill="url(#a7)"/><circle cx="1958.4" cy="264.5" r="16.0" fill="url(#a12)"/><circle cx="2092.7" cy="345.5" r="15.8" fill="url(#a0)"/><circle cx="2264.8" cy="218.8" r="15.1" fill="url(#a13)"/><circle cx="2525.1" cy="302.7" r="15.6" fill="url(#a8)"/><circle cx="2051.3" cy="331.4" r="16.1" fill="url(#a3)"/><circle cx="2219.7" cy="390.4" r="16.3" fill="url(#a4)"/><circle cx="2088.3" cy="88.7" r="15.3" fill="url(#a3)"/><circle cx="2062.9" cy="435.7" r="15.2" fill="url(#a3)"/><circle cx="2278.9" cy="202.7" r="15.8" fill="url(#a8)"/><circle cx="2189.4" cy="130.6" r="16.4" fill="url(#a4)"/><circle cx="1964.5" cy="222.9" r="16.2" fill="url(#a15)"/><circle cx="2461.3" cy="282.2" r="16.1" fill="url(#a14)"/><circle cx="2426.1" cy="566.2" r="16.0" fill="url(#a4)"/><circle cx="2226.6" cy="154.3" r="15.7" fill="url(#a4)"/><circle cx="2431.7" cy="196.8" r="16.3" fill="url(#a6)"/><circle cx="2002.4" cy="538.9" r="16.2" fill="url(#a4)"/><circle cx="2277.4" cy="71.6" r="15.3" fill="url(#a3)"/><circle cx="2343.3" cy="517.8" r="16.0" fill="url(#a13)"/><circle cx="1930.2" cy="304.0" r="15.9" fill="url(#a21)"/><circle cx="2538.5" cy="215.8" r="15.1" fill="url(#a6)"/><circle cx="2536.0" cy="583.5" r="15.3" fill="url(#a4)"/><circle cx="2427.4" cy="607.0" r="15.8" fill="url(#a4)"/><circle cx="2247.4" cy="265.1" r="15.2" fill="url(#a8)"/><circle cx="2322.2" cy="344.2" r="16.1" fill="url(#a3)"/><circle cx="2319.7" cy="303.3" r="15.4" fill="url(#a4)"/><circle cx="2324.4" cy="563.8" r="15.5" fill="url(#a22)"/><circle cx="1946.1" cy="368.0" r="15.7" fill="url(#a3)"/><circle cx="1977.0" cy="496.6" r="16.0" fill="url(#a3)"/><circle cx="2128.1" cy="155.6" r="16.1" fill="url(#a3)"/><circle cx="2383.9" cy="494.3" r="15.3" fill="url(#a3)"/><circle cx="2470.2" cy="130.1" r="16.2" fill="url(#a3)"/><circle cx="2247.5" cy="430.5" r="15.2" fill="url(#a7)"/><circle cx="2524.9" cy="219.4" r="15.9" fill="url(#a13)"/><circle cx="2155.0" cy="117.1" r="16.0" fill="url(#a3)"/><circle cx="2332.0" cy="286.1" r="15.1" fill="url(#a4)"/><circle cx="2042.3" cy="267.2" r="15.2" fill="url(#a3)"/><circle cx="2072.6" cy="288.7" r="15.7" fill="url(#a4)"/><circle cx="2090.6" cy="178.8" r="15.4" fill="url(#a3)"/><circle cx="2272.4" cy="178.6" r="15.1" fill="url(#a4)"/><circle cx="2359.7" cy="545.1" r="16.3" fill="url(#a8)"/><circle cx="2180.7" cy="625.0" r="15.9" fill="url(#a4)"/><circle cx="2444.2" cy="391.9" r="15.3" fill="url(#a4)"/><circle cx="2356.7" cy="458.0" r="15.5" fill="url(#a3)"/><circle cx="2178.9" cy="415.7" r="15.3" fill="url(#a3)"/><circle cx="2104.1" cy="281.8" r="15.6" fill="url(#a23)"/><circle cx="2399.2" cy="89.3" r="15.3" fill="url(#a4)"/><circle cx="2216.4" cy="438.7" r="15.2" fill="url(#a4)"/><circle cx="2528.9" cy="132.7" r="15.3" fill="url(#a4)"/><circle cx="2368.6" cy="306.4" r="16.2" fill="url(#a4)"/><circle cx="2362.5" cy="196.1" r="15.1" fill="url(#a8)"/><circle cx="2098.9" cy="195.5" r="16.3" fill="url(#a3)"/><circle cx="2014.0" cy="392.6" r="16.3" fill="url(#a4)"/><circle cx="1955.6" cy="182.6" r="16.1" fill="url(#a1)"/><circle cx="2110.8" cy="92.4" r="15.9" fill="url(#a0)"/><circle cx="2386.3" cy="109.7" r="16.3" fill="url(#a4)"/><circle cx="2452.6" cy="690.5" r="15.8" fill="url(#a0)"/><circle cx="1983.1" cy="220.0" r="15.3" fill="url(#a15)"/><circle cx="2294.9" cy="685.2" r="15.1" fill="url(#a10)"/><circle cx="2307.1" cy="536.4" r="15.7" fill="url(#a2)"/><circle cx="2047.1" cy="627.2" r="16.0" fill="url(#a4)"/><circle cx="2035.1" cy="644.4" r="15.6" fill="url(#a4)"/><circle cx="2071.1" cy="580.8" r="16.0" fill="url(#a4)"/><circle cx="2161.7" cy="643.2" r="15.9" fill="url(#a4)"/><circle cx="1983.6" cy="174.1" r="15.0" fill="url(#a12)"/><circle cx="2495.1" cy="177.7" r="15.8" fill="url(#a13)"/><circle cx="2173.9" cy="454.1" r="15.8" fill="url(#a4)"/><circle cx="2154.9" cy="494.2" r="15.1" fill="url(#a3)"/><circle cx="2089.3" cy="307.0" r="16.1" fill="url(#a4)"/><circle cx="1926.3" cy="586.1" r="16.3" fill="url(#a0)"/><circle cx="2448.7" cy="262.1" r="15.3" fill="url(#a22)"/><circle cx="2538.5" cy="130.6" r="16.2" fill="url(#a4)"/><circle cx="1988.7" cy="350.4" r="15.8" fill="url(#a3)"/><circle cx="2071.1" cy="457.1" r="16.1" fill="url(#a4)"/><circle cx="2012.3" cy="176.4" r="16.2" fill="url(#a5)"/><circle cx="2077.3" cy="201.5" r="15.5" fill="url(#a3)"/><circle cx="1978.2" cy="113.6" r="16.3" fill="url(#a3)"/><circle cx="2412.4" cy="454.0" r="15.8" fill="url(#a4)"/><circle cx="2058.5" cy="649.9" r="15.3" fill="url(#a7)"/><circle cx="1946.6" cy="75.8" r="15.1" fill="url(#a3)"/><circle cx="2495.3" cy="562.8" r="15.9" fill="url(#a0)"/><circle cx="1997.4" cy="410.8" r="16.2" fill="url(#a4)"/><circle cx="2318.5" cy="478.9" r="16.1" fill="url(#a4)"/><circle cx="2497.2" cy="604.5" r="15.8" fill="url(#a4)"/><circle cx="2381.3" cy="413.5" r="15.2" fill="url(#a3)"/><circle cx="2489.2" cy="454.0" r="15.0" fill="url(#a4)"/><circle cx="2495.9" cy="309.0" r="15.6" fill="url(#a8)"/><circle cx="2459.0" cy="194.8" r="15.8" fill="url(#a11)"/><circle cx="1956.9" cy="389.0" r="15.9" fill="url(#a3)"/><circle cx="2123.6" cy="195.6" r="15.4" fill="url(#a4)"/><circle cx="2257.2" cy="496.2" r="15.9" fill="url(#a0)"/><circle cx="2418.3" cy="650.4" r="16.1" fill="url(#a3)"/><circle cx="2010.7" cy="651.1" r="16.3" fill="url(#a7)"/><circle cx="2528.1" cy="690.5" r="15.6" fill="url(#a13)"/><circle cx="2130.7" cy="456.6" r="16.3" fill="url(#a3)"/><circle cx="2336.5" cy="75.7" r="15.3" fill="url(#a0)"/><circle cx="2427.1" cy="436.6" r="15.2" fill="url(#a4)"/><circle cx="2038.4" cy="136.4" r="16.1" fill="url(#a3)"/><circle cx="2395.9" cy="686.2" r="15.3" fill="url(#a10)"/><circle cx="2214.1" cy="479.1" r="16.0" fill="url(#a4)"/><circle cx="2136.9" cy="557.5" r="16.2" fill="url(#a0)"/><circle cx="2104.0" cy="371.7" r="16.0" fill="url(#a3)"/><circle cx="2458.5" cy="159.8" r="15.5" fill="url(#a4)"/><circle cx="2029.6" cy="115.0" r="15.6" fill="url(#a4)"/><circle cx="2374.0" cy="475.3" r="15.6" fill="url(#a3)"/><circle cx="2386.0" cy="285.2" r="16.4" fill="url(#a0)"/><circle cx="2079.1" cy="500.9" r="15.0" fill="url(#a10)"/><circle cx="1921.5" cy="689.0" r="16.1" fill="url(#a4)"/><circle cx="2062.9" cy="302.8" r="15.2" fill="url(#a3)"/><circle cx="2424.9" cy="690.5" r="16.1" fill="url(#a10)"/><circle cx="2521.2" cy="647.5" r="15.8" fill="url(#a0)"/><circle cx="1963.5" cy="308.9" r="15.4" fill="url(#a4)"/><circle cx="2433.4" cy="153.6" r="15.2" fill="url(#a4)"/><circle cx="2432.5" cy="329.7" r="15.7" fill="url(#a24)"/><circle cx="2498.7" cy="433.5" r="15.2" fill="url(#a0)"/><circle cx="2215.1" cy="685.4" r="15.4" fill="url(#a4)"/><circle cx="1978.1" cy="543.4" r="15.3" fill="url(#a3)"/><circle cx="2170.0" cy="93.8" r="15.4" fill="url(#a3)"/><circle cx="2366.9" cy="690.5" r="15.2" fill="url(#a0)"/><circle cx="2111.5" cy="561.7" r="15.4" fill="url(#a10)"/><circle cx="1930.2" cy="436.9" r="16.1" fill="url(#a3)"/><circle cx="1921.5" cy="565.9" r="16.1" fill="url(#a4)"/><circle cx="1991.1" cy="301.7" r="15.6" fill="url(#a4)"/><circle cx="2311.6" cy="155.8" r="15.9" fill="url(#a4)"/><circle cx="2089.9" cy="523.8" r="16.4" fill="url(#a7)"/><circle cx="1969.2" cy="585.7" r="16.0" fill="url(#a4)"/><circle cx="2491.1" cy="197.4" r="16.2" fill="url(#a24)"/><circle cx="1947.3" cy="536.9" r="16.0" fill="url(#a4)"/><circle cx="2335.0" cy="584.6" r="15.1" fill="url(#a14)"/><circle cx="2008.9" cy="309.6" r="15.5" fill="url(#a3)"/><circle cx="2282.5" cy="159.4" r="15.1" fill="url(#a3)"/><circle cx="2035.1" cy="392.9" r="15.7" fill="url(#a4)"/><circle cx="2012.1" cy="137.7" r="15.3" fill="url(#a4)"/><circle cx="2484.1" cy="75.7" r="15.4" fill="url(#a7)"/><circle cx="2251.2" cy="200.9" r="16.0" fill="url(#a5)"/><circle cx="2471.9" cy="306.7" r="16.0" fill="url(#a16)"/><circle cx="2509.4" cy="195.3" r="15.3" fill="url(#a6)"/><circle cx="2123.1" cy="665.8" r="15.8" fill="url(#a3)"/><circle cx="2306.7" cy="582.8" r="15.5" fill="url(#a19)"/><circle cx="2122.6" cy="75.5" r="15.7" fill="url(#a4)"/><circle cx="2513.1" cy="458.5" r="15.2" fill="url(#a0)"/><circle cx="2002.7" cy="283.9" r="16.0" fill="url(#a4)"/><circle cx="1962.7" cy="565.2" r="15.2" fill="url(#a7)"/><circle cx="2396.6" cy="347.4" r="16.1" fill="url(#a4)"/><circle cx="2538.5" cy="690.2" r="16.1" fill="url(#a8)"/><circle cx="2207.3" cy="75.7" r="15.6" fill="url(#a0)"/><circle cx="2444.3" cy="301.2" r="15.6" fill="url(#a16)"/><circle cx="2151.4" cy="456.3" r="16.0" fill="url(#a4)"/><circle cx="2298.1" cy="351.8" r="15.3" fill="url(#a0)"/><circle cx="2537.3" cy="156.5" r="16.3" fill="url(#a4)"/><circle cx="2500.6" cy="647.4" r="15.1" fill="url(#a10)"/><circle cx="2411.5" cy="195.2" r="16.2" fill="url(#a0)"/><circle cx="2073.0" cy="114.9" r="15.7" fill="url(#a3)"/><circle cx="2169.5" cy="686.0" r="16.2" fill="url(#a10)"/><circle cx="2270.0" cy="566.4" r="16.2" fill="url(#a24)"/><circle cx="1986.7" cy="479.3" r="15.2" fill="url(#a4)"/><circle cx="2090.5" cy="216.2" r="15.9" fill="url(#a5)"/><circle cx="2373.8" cy="260.6" r="15.3" fill="url(#a4)"/><circle cx="1946.8" cy="289.0" r="16.3" fill="url(#a16)"/><circle cx="2195.3" cy="347.7" r="15.4" fill="url(#a4)"/><circle cx="2278.0" cy="625.1" r="15.8" fill="url(#a13)"/><circle cx="2012.5" cy="517.3" r="15.0" fill="url(#a3)"/><circle cx="2247.5" cy="605.0" r="15.6" fill="url(#a3)"/><circle cx="2342.4" cy="429.8" r="16.0" fill="url(#a3)"/><circle cx="2396.1" cy="601.6" r="16.1" fill="url(#a5)"/><circle cx="2139.1" cy="96.6" r="16.2" fill="url(#a4)"/><circle cx="1943.4" cy="417.0" r="15.9" fill="url(#a3)"/><circle cx="2384.6" cy="585.9" r="15.5" fill="url(#a5)"/><circle cx="2272.2" cy="601.1" r="16.0" fill="url(#a8)"/><circle cx="2538.5" cy="237.0" r="15.2" fill="url(#a13)"/><circle cx="2226.2" cy="237.4" r="15.5" fill="url(#a16)"/><circle cx="2015.2" cy="223.3" r="15.0" fill="url(#a4)"/><circle cx="1921.6" cy="329.3" r="15.1" fill="url(#a3)"/><circle cx="2466.0" cy="369.8" r="16.0" fill="url(#a5)"/><circle cx="2241.3" cy="174.2" r="15.7" fill="url(#a3)"/><circle cx="2180.4" cy="286.3" r="16.3" fill="url(#a12)"/><circle cx="2407.5" cy="326.6" r="15.7" fill="url(#a4)"/><circle cx="2239.8" cy="516.7" r="15.1" fill="url(#a3)"/><circle cx="1999.1" cy="111.9" r="15.1" fill="url(#a3)"/><circle cx="2105.9" cy="629.0" r="15.7" fill="url(#a4)"/><circle cx="2298.2" cy="222.8" r="16.1" fill="url(#a20)"/><circle cx="2077.7" cy="624.0" r="15.5" fill="url(#a4)"/><circle cx="1957.8" cy="131.4" r="15.7" fill="url(#a6)"/><circle cx="2239.1" cy="308.6" r="15.4" fill="url(#a5)"/><circle cx="1931.0" cy="476.4" r="15.3" fill="url(#a3)"/><circle cx="2534.2" cy="501.6" r="16.3" fill="url(#a3)"/><circle cx="2495.9" cy="685.4" r="15.6" fill="url(#a3)"/><circle cx="2271.9" cy="690.5" r="15.5" fill="url(#a4)"/><circle cx="2319.0" cy="646.4" r="15.5" fill="url(#a5)"/><circle cx="2495.1" cy="260.7" r="16.0" fill="url(#a19)"/><circle cx="2023.5" cy="622.6" r="16.3" fill="url(#a0)"/><circle cx="2135.7" cy="690.4" r="15.1" fill="url(#a4)"/><circle cx="2355.8" cy="153.3" r="15.4" fill="url(#a3)"/><circle cx="2322.6" cy="432.7" r="15.2" fill="url(#a4)"/><circle cx="2071.8" cy="366.1" r="15.5" fill="url(#a4)"/><circle cx="2272.2" cy="642.9" r="15.2" fill="url(#a3)"/><circle cx="2538.5" cy="393.7" r="16.2" fill="url(#a3)"/><circle cx="1921.5" cy="179.8" r="15.9" fill="url(#a13)"/><circle cx="2384.7" cy="73.0" r="15.1" fill="url(#a3)"/><circle cx="2038.6" cy="344.5" r="16.3" fill="url(#a0)"/><circle cx="2204.2" cy="155.8" r="15.9" fill="url(#a4)"/><circle cx="2259.7" cy="70.5" r="16.3" fill="url(#a7)"/><circle cx="2234.5" cy="329.9" r="16.3" fill="url(#a3)"/><circle cx="2328.3" cy="367.9" r="15.7" fill="url(#a3)"/><circle cx="2135.9" cy="307.0" r="15.2" fill="url(#a6)"/><circle cx="2129.3" cy="499.9" r="15.6" fill="url(#a4)"/><circle cx="2152.0" cy="323.2" r="16.0" fill="url(#a4)"/><circle cx="1989.4" cy="92.4" r="16.2" fill="url(#a3)"/><circle cx="2498.7" cy="95.5" r="15.6" fill="url(#a3)"/><circle cx="2329.5" cy="415.0" r="16.1" fill="url(#a10)"/><circle cx="2278.5" cy="117.3" r="15.1" fill="url(#a4)"/><circle cx="2528.5" cy="343.7" r="15.4" fill="url(#a4)"/><circle cx="2311.8" cy="454.9" r="16.2" fill="url(#a4)"/><circle cx="2209.0" cy="374.1" r="15.7" fill="url(#a4)"/><circle cx="2334.4" cy="666.1" r="16.1" fill="url(#a7)"/><circle cx="2229.9" cy="199.2" r="16.2" fill="url(#a5)"/><circle cx="1976.1" cy="670.1" r="16.4" fill="url(#a3)"/><circle cx="2085.6" cy="643.8" r="15.3" fill="url(#a4)"/><circle cx="2020.9" cy="157.3" r="16.3" fill="url(#a10)"/><circle cx="2516.3" cy="583.9" r="15.9" fill="url(#a4)"/><circle cx="2476.2" cy="219.3" r="16.1" fill="url(#a9)"/><circle cx="2103.6" cy="238.9" r="15.4" fill="url(#a12)"/><circle cx="2336.4" cy="194.6" r="15.6" fill="url(#a12)"/><circle cx="2072.1" cy="328.3" r="16.1" fill="url(#a0)"/><circle cx="2538.5" cy="433.5" r="15.1" fill="url(#a4)"/><circle cx="2150.8" cy="236.9" r="15.3" fill="url(#a8)"/><circle cx="2239.3" cy="91.3" r="15.3" fill="url(#a4)"/><circle cx="2362.8" cy="585.3" r="15.7" fill="url(#a8)"/><circle cx="2174.4" cy="544.7" r="16.2" fill="url(#a3)"/><circle cx="2086.9" cy="475.1" r="16.4" fill="url(#a4)"/><circle cx="2114.0" cy="222.9" r="16.2" fill="url(#a5)"/><circle cx="2218.6" cy="561.0" r="16.2" fill="url(#a4)"/><circle cx="2330.7" cy="459.5" r="15.0" fill="url(#a4)"/><circle cx="2459.8" cy="455.2" r="15.3" fill="url(#a10)"/><circle cx="1968.7" cy="372.9" r="15.7" fill="url(#a3)"/><circle cx="1921.5" cy="265.4" r="15.5" fill="url(#a25)"/><circle cx="1921.5" cy="621.4" r="15.6" fill="url(#a4)"/><circle cx="2022.4" cy="412.8" r="15.7" fill="url(#a3)"/><circle cx="2167.6" cy="522.1" r="16.4" fill="url(#a3)"/><circle cx="1934.8" cy="223.2" r="16.3" fill="url(#a5)"/><circle cx="2086.0" cy="438.0" r="16.1" fill="url(#a3)"/><circle cx="2176.8" cy="587.8" r="15.0" fill="url(#a4)"/><circle cx="2426.6" cy="87.7" r="15.4" fill="url(#a4)"/><circle cx="2036.9" cy="182.4" r="15.1" fill="url(#a3)"/><circle cx="2503.3" cy="518.9" r="16.1" fill="url(#a4)"/><circle cx="2469.4" cy="475.0" r="15.8" fill="url(#a0)"/><circle cx="2451.4" cy="565.0" r="16.3" fill="url(#a3)"/><circle cx="2321.2" cy="388.0" r="15.8" fill="url(#a7)"/><circle cx="2523.1" cy="473.4" r="15.4" fill="url(#a3)"/><circle cx="2141.1" cy="173.5" r="15.6" fill="url(#a4)"/><circle cx="2240.4" cy="690.5" r="16.0" fill="url(#a4)"/><circle cx="2538.5" cy="174.8" r="16.1" fill="url(#a4)"/><circle cx="2188.7" cy="478.1" r="15.2" fill="url(#a4)"/><circle cx="2496.6" cy="136.2" r="16.0" fill="url(#a4)"/><circle cx="2114.6" cy="434.8" r="15.7" fill="url(#a10)"/><circle cx="2157.8" cy="74.5" r="16.1" fill="url(#a4)"/><circle cx="2246.7" cy="565.3" r="16.2" fill="url(#a4)"/><circle cx="2284.4" cy="412.1" r="15.6" fill="url(#a3)"/><circle cx="2124.1" cy="111.8" r="15.4" fill="url(#a3)"/><circle cx="2253.9" cy="112.9" r="15.0" fill="url(#a3)"/><circle cx="2020.4" cy="542.0" r="16.1" fill="url(#a0)"/><circle cx="1968.5" cy="630.1" r="15.2" fill="url(#a3)"/><circle cx="2114.8" cy="178.4" r="15.6" fill="url(#a3)"/><circle cx="2200.1" cy="117.8" r="15.2" fill="url(#a3)"/><circle cx="2029.6" cy="331.0" r="15.2" fill="url(#a10)"/><circle cx="2029.5" cy="202.8" r="16.0" fill="url(#a4)"/><circle cx="2372.4" cy="352.5" r="15.7" fill="url(#a3)"/><circle cx="1921.5" cy="390.7" r="15.3" fill="url(#a3)"/><circle cx="1921.5" cy="650.6" r="16.3" fill="url(#a3)"/><circle cx="2470.0" cy="350.0" r="15.5" fill="url(#a17)"/><circle cx="2366.9" cy="434.0" r="16.1" fill="url(#a3)"/><circle cx="2437.9" cy="497.3" r="15.6" fill="url(#a3)"/><circle cx="1981.7" cy="264.2" r="15.1" fill="url(#a0)"/><circle cx="2103.4" cy="157.5" r="16.2" fill="url(#a3)"/><circle cx="2085.6" cy="687.2" r="15.5" fill="url(#a3)"/><circle cx="2322.9" cy="219.0" r="16.0" fill="url(#a2)"/><circle cx="2538.3" cy="667.7" r="16.4" fill="url(#a11)"/><circle cx="2398.4" cy="301.0" r="15.6" fill="url(#a6)"/><circle cx="1947.8" cy="324.0" r="16.3" fill="url(#a5)"/><circle cx="2449.9" cy="604.3" r="15.2" fill="url(#a4)"/><circle cx="2474.9" cy="266.0" r="15.4" fill="url(#a14)"/><circle cx="2154.8" cy="627.5" r="16.3" fill="url(#a4)"/><circle cx="2418.4" cy="521.6" r="15.5" fill="url(#a4)"/><circle cx="1978.1" cy="409.5" r="15.9" fill="url(#a4)"/><circle cx="2009.8" cy="562.6" r="16.2" fill="url(#a0)"/><circle cx="2524.8" cy="176.0" r="16.3" fill="url(#a5)"/><circle cx="2538.0" cy="74.3" r="16.1" fill="url(#a3)"/><circle cx="2138.9" cy="259.2" r="15.3" fill="url(#a19)"/><circle cx="2421.2" cy="302.6" r="15.6" fill="url(#a17)"/><circle cx="2156.0" cy="579.9" r="15.7" fill="url(#a3)"/><circle cx="2471.9" cy="180.5" r="16.4" fill="url(#a5)"/><circle cx="2330.8" cy="160.1" r="15.7" fill="url(#a5)"/><circle cx="2436.2" cy="289.1" r="15.9" fill="url(#a16)"/><circle cx="1963.9" cy="686.1" r="16.0" fill="url(#a4)"/><circle cx="2354.0" cy="284.9" r="16.4" fill="url(#a4)"/><circle cx="2361.9" cy="665.1" r="15.4" fill="url(#a3)"/><circle cx="2357.9" cy="242.4" r="16.0" fill="url(#a13)"/><circle cx="2231.5" cy="413.6" r="16.4" fill="url(#a3)"/><circle cx="1921.5" cy="495.7" r="15.5" fill="url(#a3)"/><circle cx="1969.4" cy="194.3" r="16.4" fill="url(#a1)"/><circle cx="2482.0" cy="579.7" r="15.1" fill="url(#a4)"/><circle cx="2503.4" cy="220.3" r="15.9" fill="url(#a15)"/><circle cx="2169.6" cy="436.9" r="15.4" fill="url(#a3)"/><circle cx="2460.9" cy="118.4" r="15.1" fill="url(#a4)"/><circle cx="2538.5" cy="268.1" r="16.0" fill="url(#a8)"/><circle cx="2386.2" cy="457.4" r="16.1" fill="url(#a4)"/><circle cx="2409.3" cy="416.2" r="15.8" fill="url(#a4)"/><circle cx="2066.4" cy="181.8" r="15.2" fill="url(#a0)"/><circle cx="2217.7" cy="646.2" r="16.4" fill="url(#a4)"/><circle cx="2199.8" cy="416.3" r="15.8" fill="url(#a3)"/><circle cx="2321.1" cy="516.6" r="16.3" fill="url(#a17)"/><circle cx="2516.5" cy="496.4" r="15.8" fill="url(#a3)"/><circle cx="1925.8" cy="368.0" r="15.6" fill="url(#a3)"/><circle cx="2152.4" cy="411.8" r="15.2" fill="url(#a3)"/><circle cx="2245.8" cy="132.0" r="16.1" fill="url(#a4)"/><circle cx="2144.0" cy="434.0" r="16.1" fill="url(#a4)"/><circle cx="2077.7" cy="411.6" r="16.0" fill="url(#a3)"/><circle cx="1932.1" cy="652.0" r="15.8" fill="url(#a4)"/><circle cx="2361.1" cy="114.5" r="15.2" fill="url(#a3)"/><circle cx="2113.6" cy="131.1" r="15.9" fill="url(#a0)"/><circle cx="1981.9" cy="136.4" r="15.9" fill="url(#a4)"/><circle cx="1983.4" cy="563.6" r="15.6" fill="url(#a10)"/><circle cx="2303.9" cy="627.5" r="15.8" fill="url(#a13)"/><circle cx="2345.5" cy="389.7" r="15.4" fill="url(#a3)"/><circle cx="2245.1" cy="350.9" r="15.9" fill="url(#a3)"/><circle cx="2382.8" cy="161.0" r="15.3" fill="url(#a4)"/><circle cx="2373.7" cy="139.4" r="15.9" fill="url(#a0)"/><circle cx="2212.2" cy="132.7" r="15.6" fill="url(#a3)"/><circle cx="2102.6" cy="538.2" r="16.0" fill="url(#a3)"/><circle cx="2176.9" cy="117.5" r="15.5" fill="url(#a4)"/><circle cx="2515.4" cy="281.7" r="15.5" fill="url(#a25)"/><circle cx="2126.1" cy="411.2" r="15.7" fill="url(#a4)"/><circle cx="2302.8" cy="238.9" r="15.1" fill="url(#a15)"/><circle cx="2361.8" cy="629.4" r="15.7" fill="url(#a0)"/><circle cx="2510.4" cy="624.4" r="15.0" fill="url(#a3)"/><circle cx="2041.1" cy="560.7" r="15.5" fill="url(#a3)"/><circle cx="2283.0" cy="580.0" r="16.4" fill="url(#a2)"/><circle cx="2516.5" cy="543.0" r="15.1" fill="url(#a4)"/><circle cx="2405.6" cy="286.7" r="16.2" fill="url(#a12)"/><circle cx="2323.6" cy="605.2" r="16.4" fill="url(#a25)"/><circle cx="2157.4" cy="365.9" r="15.5" fill="url(#a0)"/><circle cx="1994.1" cy="326.5" r="15.5" fill="url(#a4)"/><circle cx="2307.4" cy="323.5" r="16.2" fill="url(#a3)"/><circle cx="2045.3" cy="501.9" r="15.1" fill="url(#a4)"/><circle cx="2234.0" cy="624.0" r="15.1" fill="url(#a4)"/><circle cx="2413.7" cy="373.0" r="15.0" fill="url(#a10)"/><circle cx="2490.1" cy="157.1" r="16.0" fill="url(#a10)"/><circle cx="1957.4" cy="436.0" r="15.4" fill="url(#a0)"/><circle cx="2424.8" cy="261.6" r="15.9" fill="url(#a15)"/><circle cx="2534.6" cy="282.3" r="16.3" fill="url(#a8)"/><circle cx="2527.3" cy="391.1" r="15.5" fill="url(#a4)"/><circle cx="2515.9" cy="664.1" r="15.3" fill="url(#a3)"/><circle cx="2343.8" cy="650.8" r="15.4" fill="url(#a5)"/><circle cx="2045.8" cy="366.1" r="15.1" fill="url(#a4)"/><circle cx="2469.7" cy="89.0" r="16.0" fill="url(#a4)"/><circle cx="2151.6" cy="288.9" r="15.9" fill="url(#a9)"/><circle cx="2401.1" cy="132.2" r="16.3" fill="url(#a0)"/><circle cx="2227.7" cy="459.5" r="15.4" fill="url(#a4)"/><circle cx="2054.0" cy="664.8" r="15.9" fill="url(#a3)"/><circle cx="2080.2" cy="537.7" r="15.8" fill="url(#a4)"/><circle cx="2039.6" cy="609.0" r="15.8" fill="url(#a7)"/><circle cx="2001.2" cy="668.9" r="16.2" fill="url(#a3)"/><circle cx="2153.2" cy="196.4" r="15.5" fill="url(#a10)"/><circle cx="2525.1" cy="95.4" r="16.4" fill="url(#a4)"/><circle cx="2481.9" cy="498.2" r="15.8" fill="url(#a3)"/><circle cx="1935.3" cy="351.0" r="15.7" fill="url(#a7)"/><circle cx="2066.8" cy="690.5" r="15.9" fill="url(#a4)"/><circle cx="2417.6" cy="224.0" r="16.0" fill="url(#a17)"/><circle cx="2036.1" cy="304.8" r="15.2" fill="url(#a3)"/><circle cx="2463.8" cy="493.2" r="16.3" fill="url(#a3)"/><circle cx="2179.1" cy="161.4" r="15.7" fill="url(#a3)"/><circle cx="1971.5" cy="71.9" r="15.6" fill="url(#a0)"/><circle cx="1933.4" cy="690.5" r="15.9" fill="url(#a10)"/><circle cx="2100.2" cy="666.9" r="15.7" fill="url(#a3)"/><circle cx="2027.3" cy="284.0" r="16.2" fill="url(#a4)"/><circle cx="2139.7" cy="520.5" r="15.6" fill="url(#a4)"/><circle cx="2482.2" cy="323.7" r="15.5" fill="url(#a8)"/><circle cx="2358.3" cy="407.6" r="16.3" fill="url(#a3)"/><circle cx="2408.8" cy="501.6" r="16.2" fill="url(#a3)"/><circle cx="1930.5" cy="562.8" r="15.2" fill="url(#a4)"/><circle cx="2520.6" cy="609.0" r="15.4" fill="url(#a10)"/><circle cx="2264.4" cy="517.0" r="16.0" fill="url(#a5)"/><circle cx="2444.6" cy="89.4" r="15.4" fill="url(#a7)"/><circle cx="2471.5" cy="605.2" r="15.9" fill="url(#a3)"/><circle cx="2191.0" cy="388.7" r="16.0" fill="url(#a0)"/><circle cx="2538.5" cy="563.5" r="16.3" fill="url(#a3)"/><circle cx="2167.5" cy="472.5" r="15.2" fill="url(#a0)"/><circle cx="2059.0" cy="478.1" r="16.1" fill="url(#a3)"/><circle cx="1921.5" cy="138.6" r="15.1" fill="url(#a3)"/><circle cx="2000.4" cy="499.4" r="15.4" fill="url(#a4)"/><circle cx="2218.5" cy="267.1" r="15.7" fill="url(#a15)"/><circle cx="2079.2" cy="671.6" r="15.3" fill="url(#a7)"/><circle cx="1976.8" cy="451.2" r="15.9" fill="url(#a4)"/><circle cx="2538.5" cy="642.7" r="16.1" fill="url(#a4)"/><circle cx="2297.7" cy="601.2" r="16.3" fill="url(#a1)"/><circle cx="2381.6" cy="323.2" r="15.7" fill="url(#a5)"/><circle cx="1922.2" cy="542.6" r="15.7" fill="url(#a4)"/><circle cx="2170.0" cy="559.4" r="16.1" fill="url(#a7)"/><circle cx="2144.3" cy="608.7" r="16.0" fill="url(#a4)"/><circle cx="1982.0" cy="689.3" r="15.9" fill="url(#a3)"/><circle cx="2182.9" cy="496.7" r="15.2" fill="url(#a4)"/><circle cx="2141.2" cy="343.6" r="16.3" fill="url(#a4)"/><circle cx="2461.2" cy="580.2" r="15.7" fill="url(#a4)"/><circle cx="2230.7" cy="584.5" r="15.4" fill="url(#a5)"/><circle cx="2369.2" cy="561.0" r="15.6" fill="url(#a12)"/><circle cx="2012.3" cy="477.4" r="15.0" fill="url(#a3)"/><circle cx="2372.8" cy="516.7" r="15.3" fill="url(#a5)"/><circle cx="2067.9" cy="517.9" r="15.8" fill="url(#a4)"/><circle cx="2388.3" cy="667.8" r="16.1" fill="url(#a3)"/><circle cx="2538.5" cy="481.4" r="15.0" fill="url(#a4)"/><circle cx="2065.1" cy="136.0" r="16.0" fill="url(#a3)"/><circle cx="2090.9" cy="604.2" r="15.3" fill="url(#a0)"/><circle cx="2162.2" cy="263.5" r="15.5" fill="url(#a22)"/><circle cx="2276.6" cy="241.5" r="16.0" fill="url(#a12)"/>
<rect x="1926.8" y="77.8" width="608" height="604.8" fill="none" stroke="#0a0a14" stroke-width="2.2"/>
<circle cx="2306.2" cy="502.3" r="16.4" fill="url(#a6)"/><circle cx="2276.3" cy="330.8" r="16.2" fill="url(#a4)"/><circle cx="2125.1" cy="244.5" r="15.2" fill="url(#a12)"/><circle cx="2026.2" cy="586.8" r="15.2" fill="url(#a4)"/><circle cx="1921.5" cy="288.9" r="16.2" fill="url(#a8)"/><circle cx="2252.0" cy="454.5" r="15.5" fill="url(#a4)"/><circle cx="2218.8" cy="520.2" r="16.4" fill="url(#a4)"/><circle cx="2308.0" cy="413.0" r="16.3" fill="url(#a3)"/><circle cx="2277.9" cy="539.8" r="16.4" fill="url(#a13)"/><circle cx="2049.1" cy="541.9" r="15.2" fill="url(#a0)"/><circle cx="1957.5" cy="480.0" r="15.4" fill="url(#a0)"/><circle cx="2485.2" cy="243.8" r="15.6" fill="url(#a22)"/><circle cx="1921.5" cy="215.5" r="16.3" fill="url(#a4)"/><circle cx="1921.5" cy="514.5" r="16.0" fill="url(#a0)"/><circle cx="2122.7" cy="622.6" r="15.4" fill="url(#a4)"/><circle cx="2498.9" cy="352.8" r="15.3" fill="url(#a0)"/><circle cx="2398.1" cy="391.3" r="15.7" fill="url(#a4)"/><circle cx="1921.5" cy="433.9" r="15.3" fill="url(#a4)"/><circle cx="2178.9" cy="666.0" r="15.7" fill="url(#a4)"/><circle cx="2484.7" cy="283.0" r="16.1" fill="url(#a9)"/><circle cx="2359.5" cy="370.2" r="15.4" fill="url(#a3)"/><circle cx="2372.1" cy="644.5" r="16.1" fill="url(#a0)"/><circle cx="1921.5" cy="667.8" r="15.5" fill="url(#a3)"/><circle cx="1943.6" cy="113.1" r="15.7" fill="url(#a4)"/><circle cx="1957.5" cy="346.6" r="15.5" fill="url(#a3)"/><circle cx="2484.2" cy="665.3" r="15.7" fill="url(#a0)"/><circle cx="2398.3" cy="174.7" r="16.0" fill="url(#a5)"/><circle cx="2194.2" cy="605.1" r="15.5" fill="url(#a4)"/><circle cx="2344.9" cy="351.6" r="15.3" fill="url(#a3)"/><circle cx="2294.4" cy="479.1" r="15.7" fill="url(#a5)"/><circle cx="2385.3" cy="541.8" r="15.1" fill="url(#a6)"/><circle cx="2411.9" cy="626.6" r="16.3" fill="url(#a7)"/><circle cx="2272.3" cy="472.1" r="15.7" fill="url(#a4)"/><circle cx="2502.2" cy="389.2" r="15.1" fill="url(#a10)"/><circle cx="1926.7" cy="243.9" r="15.3" fill="url(#a17)"/><circle cx="2125.7" cy="322.3" r="15.1" fill="url(#a5)"/><circle cx="2166.4" cy="306.9" r="16.2" fill="url(#a6)"/><circle cx="2204.7" cy="329.2" r="16.3" fill="url(#a3)"/><circle cx="2194.1" cy="690.5" r="15.7" fill="url(#a4)"/><circle cx="2214.1" cy="95.3" r="16.0" fill="url(#a4)"/><circle cx="1976.3" cy="330.6" r="16.2" fill="url(#a10)"/><circle cx="2041.4" cy="431.7" r="15.4" fill="url(#a4)"/><circle cx="1921.5" cy="476.5" r="15.6" fill="url(#a3)"/><circle cx="1923.8" cy="200.0" r="15.6" fill="url(#a12)"/><circle cx="2330.3" cy="117.7" r="15.7" fill="url(#a3)"/><circle cx="2342.9" cy="558.4" r="15.3" fill="url(#a16)"/><circle cx="2372.3" cy="609.0" r="15.6" fill="url(#a0)"/><circle cx="2034.2" cy="477.0" r="15.6" fill="url(#a3)"/><circle cx="2458.4" cy="544.1" r="15.9" fill="url(#a4)"/><circle cx="2538.5" cy="520.5" r="16.1" fill="url(#a4)"/><circle cx="2117.7" cy="601.6" r="15.1" fill="url(#a10)"/><circle cx="2190.4" cy="225.0" r="15.4" fill="url(#a13)"/><circle cx="2169.6" cy="217.0" r="16.0" fill="url(#a4)"/><circle cx="2344.4" cy="134.5" r="15.2" fill="url(#a4)"/><circle cx="2512.9" cy="328.7" r="15.3" fill="url(#a13)"/><circle cx="1976.9" cy="284.3" r="15.4" fill="url(#a4)"/><circle cx="2206.6" cy="495.6" r="15.6" fill="url(#a0)"/><circle cx="2278.2" cy="365.8" r="15.9" fill="url(#a3)"/><circle cx="2392.3" cy="563.9" r="15.5" fill="url(#a4)"/><circle cx="2118.8" cy="347.3" r="16.1" fill="url(#a4)"/><circle cx="1921.5" cy="70.5" r="15.9" fill="url(#a3)"/><circle cx="2124.5" cy="583.6" r="16.0" fill="url(#a3)"/><circle cx="2116.9" cy="261.5" r="15.3" fill="url(#a21)"/><circle cx="2408.0" cy="580.2" r="15.8" fill="url(#a0)"/><circle cx="2101.2" cy="322.3" r="15.7" fill="url(#a5)"/><circle cx="2217.0" cy="352.3" r="16.0" fill="url(#a4)"/><circle cx="2255.0" cy="367.2" r="15.8" fill="url(#a4)"/><circle cx="2267.4" cy="347.8" r="15.5" fill="url(#a0)"/><circle cx="2472.1" cy="645.4" r="16.3" fill="url(#a4)"/><circle cx="2292.0" cy="643.5" r="16.0" fill="url(#a4)"/><circle cx="2464.9" cy="413.2" r="15.7" fill="url(#a10)"/><circle cx="2488.1" cy="625.7" r="16.2" fill="url(#a3)"/><circle cx="2430.4" cy="374.7" r="15.6" fill="url(#a5)"/><circle cx="1961.0" cy="520.8" r="15.0" fill="url(#a4)"/><circle cx="2347.7" cy="265.6" r="16.0" fill="url(#a5)"/><circle cx="2060.9" cy="344.7" r="15.2" fill="url(#a3)"/><circle cx="2010.7" cy="262.9" r="15.4" fill="url(#a0)"/><circle cx="2026.4" cy="459.8" r="15.8" fill="url(#a0)"/><circle cx="2228.9" cy="500.4" r="15.4" fill="url(#a4)"/><circle cx="1944.2" cy="201.4" r="15.1" fill="url(#a15)"/><circle cx="2512.4" cy="365.4" r="15.4" fill="url(#a4)"/><circle cx="2376.0" cy="90.0" r="15.1" fill="url(#a10)"/><circle cx="2200.9" cy="584.7" r="15.4" fill="url(#a4)"/><circle cx="1935.8" cy="177.3" r="16.1" fill="url(#a2)"/><circle cx="2538.5" cy="344.8" r="15.5" fill="url(#a0)"/><circle cx="2203.1" cy="200.7" r="15.5" fill="url(#a5)"/><circle cx="2061.3" cy="600.6" r="15.2" fill="url(#a4)"/><circle cx="2113.8" cy="481.4" r="15.8" fill="url(#a4)"/><circle cx="2394.7" cy="217.4" r="16.0" fill="url(#a6)"/><circle cx="2240.9" cy="221.9" r="16.4" fill="url(#a8)"/><circle cx="1921.5" cy="346.5" r="16.0" fill="url(#a4)"/><circle cx="2023.5" cy="72.7" r="15.0" fill="url(#a3)"/><circle cx="1949.1" cy="493.3" r="15.9" fill="url(#a4)"/><circle cx="2478.7" cy="391.6" r="16.3" fill="url(#a4)"/><circle cx="2161.3" cy="394.9" r="15.2" fill="url(#a4)"/><circle cx="1921.5" cy="599.7" r="15.6" fill="url(#a3)"/><circle cx="2089.9" cy="261.0" r="15.7" fill="url(#a25)"/><circle cx="2310.0" cy="196.1" r="16.3" fill="url(#a13)"/><circle cx="2177.8" cy="374.3" r="15.4" fill="url(#a4)"/><circle cx="2256.4" cy="285.1" r="15.6" fill="url(#a5)"/><circle cx="2509.5" cy="116.7" r="15.5" fill="url(#a3)"/><circle cx="2462.0" cy="623.7" r="16.3" fill="url(#a4)"/><circle cx="2409.8" cy="237.9" r="15.3" fill="url(#a6)"/><circle cx="2000.3" cy="159.5" r="16.2" fill="url(#a5)"/><circle cx="2291.4" cy="306.5" r="15.9" fill="url(#a0)"/><circle cx="2291.9" cy="177.7" r="15.4" fill="url(#a4)"/><circle cx="2049.5" cy="411.5" r="15.7" fill="url(#a3)"/><circle cx="2392.1" cy="430.2" r="16.1" fill="url(#a4)"/><circle cx="2035.0" cy="690.5" r="15.5" fill="url(#a0)"/><circle cx="1996.2" cy="203.7" r="16.2" fill="url(#a12)"/><circle cx="2419.1" cy="393.2" r="16.3" fill="url(#a3)"/><circle cx="2424.6" cy="135.6" r="15.2" fill="url(#a4)"/><circle cx="2162.5" cy="138.6" r="15.7" fill="url(#a3)"/><circle cx="1963.7" cy="645.7" r="16.1" fill="url(#a13)"/><circle cx="2138.1" cy="220.9" r="15.6" fill="url(#a6)"/><circle cx="2201.1" cy="287.8" r="15.1" fill="url(#a5)"/><circle cx="2175.0" cy="246.4" r="15.5" fill="url(#a8)"/><circle cx="2411.0" cy="113.3" r="15.2" fill="url(#a3)"/><circle cx="1923.7" cy="410.9" r="16.3" fill="url(#a4)"/><circle cx="2311.1" cy="286.5" r="15.6" fill="url(#a4)"/><circle cx="2472.3" cy="690.5" r="15.3" fill="url(#a4)"/><circle cx="2231.6" cy="289.0" r="16.4" fill="url(#a5)"/><circle cx="1935.5" cy="609.0" r="16.2" fill="url(#a7)"/><circle cx="2229.4" cy="366.7" r="15.6" fill="url(#a0)"/><circle cx="2200.2" cy="456.8" r="15.7" fill="url(#a0)"/><circle cx="2073.8" cy="161.3" r="15.4" fill="url(#a3)"/><circle cx="2059.4" cy="92.1" r="15.5" fill="url(#a4)"/><circle cx="2053.0" cy="244.5" r="16.2" fill="url(#a3)"/><circle cx="2100.3" cy="70.5" r="16.2" fill="url(#a4)"/><circle cx="2430.7" cy="417.1" r="15.3" fill="url(#a4)"/><circle cx="2457.3" cy="70.5" r="16.0" fill="url(#a4)"/><circle cx="2113.7" cy="524.0" r="15.7" fill="url(#a7)"/><circle cx="2388.9" cy="374.0" r="16.3" fill="url(#a3)"/><circle cx="2330.9" cy="623.3" r="15.2" fill="url(#a6)"/><circle cx="2010.7" cy="690.5" r="15.9" fill="url(#a3)"/><circle cx="2136.7" cy="391.1" r="15.1" fill="url(#a3)"/><circle cx="2109.9" cy="690.4" r="16.0" fill="url(#a4)"/><circle cx="2048.7" cy="580.0" r="16.3" fill="url(#a3)"/><circle cx="2085.6" cy="559.4" r="15.1" fill="url(#a4)"/><circle cx="2438.6" cy="665.3" r="16.3" fill="url(#a4)"/><circle cx="2216.6" cy="181.1" r="15.8" fill="url(#a0)"/><circle cx="2474.0" cy="565.0" r="16.2" fill="url(#a4)"/><circle cx="2533.6" cy="623.9" r="15.6" fill="url(#a3)"/><circle cx="2512.6" cy="73.5" r="15.9" fill="url(#a4)"/><circle cx="1937.5" cy="93.5" r="15.9" fill="url(#a7)"/><circle cx="2343.9" cy="218.7" r="15.8" fill="url(#a22)"/><circle cx="2348.4" cy="690.5" r="15.6" fill="url(#a3)"/><circle cx="1986.5" cy="386.4" r="15.1" fill="url(#a4)"/><circle cx="2052.8" cy="454.7" r="15.2" fill="url(#a3)"/><circle cx="1948.4" cy="158.8" r="15.2" fill="url(#a8)"/><circle cx="2321.6" cy="175.8" r="16.1" fill="url(#a4)"/><circle cx="2038.2" cy="517.4" r="15.3" fill="url(#a4)"/><circle cx="2524.2" cy="524.0" r="16.0" fill="url(#a0)"/><circle cx="2192.8" cy="563.8" r="15.9" fill="url(#a4)"/><circle cx="2509.9" cy="245.0" r="15.8" fill="url(#a20)"/><circle cx="2394.1" cy="646.7" r="16.3" fill="url(#a3)"/><circle cx="2446.0" cy="517.3" r="16.1" fill="url(#a0)"/><circle cx="2406.2" cy="668.2" r="15.0" fill="url(#a10)"/><circle cx="2270.5" cy="430.4" r="16.0" fill="url(#a3)"/><circle cx="2272.4" cy="135.3" r="15.7" fill="url(#a4)"/><circle cx="2473.3" cy="437.4" r="15.0" fill="url(#a4)"/><circle cx="2348.5" cy="94.7" r="16.2" fill="url(#a4)"/><circle cx="2093.5" cy="392.6" r="15.8" fill="url(#a3)"/><circle cx="2342.8" cy="604.0" r="15.4" fill="url(#a16)"/><circle cx="2330.7" cy="498.4" r="16.0" fill="url(#a6)"/><circle cx="1999.4" cy="586.7" r="15.0" fill="url(#a4)"/><circle cx="2356.6" cy="72.2" r="15.7" fill="url(#a4)"/><circle cx="2310.8" cy="75.4" r="15.4" fill="url(#a3)"/><circle cx="2256.1" cy="331.4" r="15.1" fill="url(#a3)"/>
<circle cx="2309.0" cy="210.3" r="15.4" fill="url(#a9)"/><circle cx="2389.7" cy="189.7" r="15.4" fill="url(#a22)"/><circle cx="2477.0" cy="203.4" r="15.4" fill="url(#a9)"/><circle cx="2453.0" cy="328.6" r="15.4" fill="url(#a22)"/><circle cx="2464.3" cy="347.4" r="15.4" fill="url(#a2)"/><circle cx="2373.4" cy="289.0" r="15.4" fill="url(#a2)"/><circle cx="2331.4" cy="240.3" r="15.4" fill="url(#a26)"/><circle cx="2342.6" cy="208.6" r="15.4" fill="url(#a27)"/><circle cx="2490.9" cy="332.0" r="15.4" fill="url(#a27)"/><circle cx="2360.6" cy="236.0" r="15.4" fill="url(#a28)"/><circle cx="2394.9" cy="241.0" r="15.4" fill="url(#a29)"/><circle cx="2419.7" cy="194.9" r="15.4" fill="url(#a28)"/><circle cx="2518.0" cy="225.7" r="15.4" fill="url(#a28)"/><circle cx="2375.0" cy="211.0" r="15.4" fill="url(#a30)"/><circle cx="2400.0" cy="215.4" r="15.4" fill="url(#a30)"/><circle cx="2448.9" cy="212.0" r="15.4" fill="url(#a30)"/><circle cx="2424.0" cy="258.3" r="15.4" fill="url(#a30)"/><circle cx="2430.9" cy="280.6" r="15.4" fill="url(#a31)"/><circle cx="2423.0" cy="227.4" r="15.4" fill="url(#a32)"/><circle cx="2517.4" cy="319.1" r="15.4" fill="url(#a30)"/><circle cx="2535.4" cy="182.9" r="15.4" fill="url(#a30)"/><circle cx="2374.3" cy="260.0" r="15.4" fill="url(#a33)"/><circle cx="2448.0" cy="242.9" r="15.4" fill="url(#a34)"/><circle cx="2494.3" cy="225.7" r="15.4" fill="url(#a34)"/><circle cx="2537.0" cy="268.6" r="15.4" fill="url(#a34)"/><circle cx="2528.6" cy="246.3" r="15.4" fill="url(#a35)"/><circle cx="2538.0" cy="289.0" r="15.4" fill="url(#a36)"/><circle cx="2530.3" cy="294.3" r="15.4" fill="url(#a35)"/><circle cx="2470.3" cy="236.0" r="15.4" fill="url(#a34)"/><circle cx="2496.0" cy="253.1" r="15.4" fill="url(#a34)"/><circle cx="2456.6" cy="265.1" r="15.4" fill="url(#a34)"/><circle cx="2480.6" cy="275.4" r="15.4" fill="url(#a34)"/><circle cx="2511.4" cy="277.1" r="15.4" fill="url(#a34)"/><circle cx="2475.0" cy="296.0" r="15.4" fill="url(#a34)"/><circle cx="2453.2" cy="299.4" r="15.4" fill="url(#a34)"/><circle cx="2496.0" cy="301.1" r="15.4" fill="url(#a34)"/><circle cx="2474.6" cy="316.6" r="15.4" fill="url(#a37)"/><circle cx="2533.7" cy="212.0" r="15.4" fill="url(#a33)"/><circle cx="2353.1" cy="502.9" r="15.4" fill="url(#a22)"/><circle cx="2296.6" cy="509.7" r="15.4" fill="url(#a15)"/><circle cx="2276.0" cy="532.0" r="15.4" fill="url(#a22)"/><circle cx="2236.6" cy="571.4" r="15.4" fill="url(#a38)"/><circle cx="2390.0" cy="568.0" r="15.4" fill="url(#a39)"/><circle cx="2351.4" cy="526.9" r="15.4" fill="url(#a27)"/><circle cx="2262.3" cy="559.4" r="15.4" fill="url(#a29)"/><circle cx="2264.9" cy="590.3" r="15.4" fill="url(#a30)"/><circle cx="2329.1" cy="524.3" r="15.4" fill="url(#a30)"/><circle cx="2371.1" cy="534.6" r="15.4" fill="url(#a30)"/><circle cx="2366.0" cy="562.9" r="15.4" fill="url(#a30)"/><circle cx="2368.6" cy="590.3" r="15.4" fill="url(#a30)"/><circle cx="2315.4" cy="621.1" r="15.4" fill="url(#a30)"/><circle cx="2294.0" cy="604.0" r="15.4" fill="url(#a30)"/><circle cx="2344.6" cy="549.1" r="15.4" fill="url(#a34)"/><circle cx="2306.9" cy="580.0" r="15.4" fill="url(#a34)"/><circle cx="2342.9" cy="581.7" r="15.4" fill="url(#a34)"/><circle cx="2292.3" cy="561.1" r="15.4" fill="url(#a34)"/><circle cx="2324.0" cy="562.9" r="15.4" fill="url(#a34)"/><circle cx="2324.9" cy="603.1" r="15.4" fill="url(#a34)"/><circle cx="2305.1" cy="534.6" r="15.4" fill="url(#a35)"/><circle cx="2348.9" cy="616.9" r="15.4" fill="url(#a40)"/><circle cx="2135.6" cy="242.3" r="15.4" fill="url(#a27)"/><circle cx="2113.5" cy="270.0" r="15.4" fill="url(#a30)"/><circle cx="2149.7" cy="267.4" r="15.4" fill="url(#a30)"/><circle cx="1945.0" cy="162.5" r="15.4" fill="url(#a22)"/><circle cx="1973.8" cy="175.0" r="15.4" fill="url(#a22)"/><circle cx="1952.5" cy="200.0" r="15.4" fill="url(#a22)"/><circle cx="1986.0" cy="205.0" r="15.4" fill="url(#a9)"/><circle cx="1981.0" cy="72.5" r="15.4" fill="url(#a22)"/><circle cx="2060.0" cy="107.5" r="15.4" fill="url(#a9)"/><circle cx="1936.0" cy="267.5" r="15.4" fill="url(#a38)"/><circle cx="1933.8" cy="297.5" r="15.4" fill="url(#a27)"/><circle cx="2173.8" cy="237.5" r="15.4" fill="url(#a22)"/><circle cx="2206.0" cy="252.5" r="15.4" fill="url(#a9)"/><circle cx="2152.5" cy="296.0" r="15.4" fill="url(#a22)"/><circle cx="2185.0" cy="287.5" r="15.4" fill="url(#a9)"/><circle cx="2090.0" cy="300.0" r="15.4" fill="url(#a9)"/><circle cx="2057.5" cy="285.0" r="15.4" fill="url(#a9)"/><circle cx="2122.5" cy="305.0" r="15.4" fill="url(#a22)"/><circle cx="2240.0" cy="240.0" r="15.4" fill="url(#a9)"/><circle cx="2275.0" cy="232.0" r="15.4" fill="url(#a9)"/>
<circle cx="1913.5" cy="137.5" r="10.0" fill="url(#a30)"/><circle cx="1923.8" cy="160.0" r="4.0" fill="url(#a34)"/><circle cx="1916.0" cy="212.5" r="11.0" fill="url(#a30)"/><circle cx="1923.0" cy="242.5" r="6.0" fill="url(#a34)"/><circle cx="1927.0" cy="246.0" r="4.0" fill="url(#a41)"/><circle cx="1916.0" cy="272.5" r="10.0" fill="url(#a35)"/><circle cx="1914.5" cy="297.5" r="10.0" fill="url(#a32)"/><circle cx="2051.0" cy="260.0" r="8.5" fill="url(#a30)"/><circle cx="2030.0" cy="302.5" r="8.5" fill="url(#a42)"/><circle cx="2388.0" cy="62.0" r="8.0" fill="url(#a34)"/><circle cx="2372.0" cy="66.0" r="9.0" fill="url(#a30)"/><circle cx="2370.0" cy="690.0" r="9.0" fill="url(#a30)"/><circle cx="2545.0" cy="682.0" r="8.0" fill="url(#a27)"/><circle cx="2543.0" cy="150.0" r="7.0" fill="url(#a30)"/><circle cx="2543.0" cy="168.0" r="7.0" fill="url(#a30)"/>
<circle cx="1932.0" cy="139.0" r="15.3" fill="url(#a7)"/><circle cx="1935.0" cy="214.0" r="15.3" fill="url(#a4)"/><circle cx="1941.0" cy="243.0" r="15.3" fill="url(#a7)"/><circle cx="1936.0" cy="267.5" r="15.3" fill="url(#a38)"/><circle cx="1933.8" cy="297.5" r="15.3" fill="url(#a27)"/><circle cx="2060.0" cy="270.0" r="15.3" fill="url(#a4)"/><circle cx="2040.0" cy="312.0" r="15.3" fill="url(#a7)"/><circle cx="2386.0" cy="78.0" r="15.3" fill="url(#a7)"/><circle cx="2368.0" cy="682.0" r="15.3" fill="url(#a7)"/><circle cx="2532.0" cy="160.0" r="15.3" fill="url(#a4)"/>
<rect x="2582.8" y="197" width="36.6" height="414.5" fill="#c9a6c8" opacity="0.55"/>
<rect x="2584.3" y="198.5" width="33.6" height="411.4" fill="url(#cb)"/>
<text x="2644.0" y="271.0" font-size="57" textLength="43.0" lengthAdjust="spacingAndGlyphs">≥</text>
<text x="2693.0" y="271.0" font-size="57" textLength="79.0">0.6</text>
<text x="2647.0" y="421.5" font-size="58" textLength="199.0"><tspan font-style="italic">δ</tspan> (rad.)</text>
<text x="2638.0" y="585.0" font-size="57" textLength="78.0">0.0</text>
</g>
<g id="panelC">
<text x="329.0" y="835.0" font-size="53" font-weight="bold" font-family="Liberation Sans, sans-serif">c</text>
<rect x="517" y="833" width="944" height="740" fill="url(#cg)"/>
<rect x="611" y="857" width="139" height="67" fill="#ec6079" opacity="0.75"/>
<rect x="522" y="1040" width="154" height="70" fill="#e85a72" opacity="0.7"/>
<rect x="522" y="1340" width="228" height="67" fill="#e85a72" opacity="0.8"/>
<rect x="921" y="1319" width="180" height="65" fill="#9ca68c" opacity="0.85"/>
<rect x="1200" y="1250" width="200" height="64" fill="#63c094" opacity="0.6"/>
<path d="M521 921.5h9M521 1013.0h14M521 1104.5h9M521 1196.0h14M521 1287.5h9M521 1379.0h14M521 1470.5h9M521 1562.0h14M1457 842.6h-14M1457 933.2h-9M1457 1023.8h-14M1457 1114.4h-9M1457 1205.0h-14M1457 1295.6h-9M1457 1386.2h-14M1457 1476.8h-9M574.2 1569v-4M662.6 1569v-11M751.0 1569v-4M839.3 1569v-11M927.6 1569v-4M1016.0 1569v-11M1104.3 1569v-4M1192.7 1569v-11M1281.0 1569v-4M1369.4 1569v-11" stroke="#4a4040" stroke-width="2.4" opacity="0.6" fill="none"/>
<path d="M517 872.5 L598 927" stroke="#2e8a86" stroke-width="4.2" fill="none"/>
<path d="M602 928 L662 969" stroke="#2e8a86" stroke-width="20" stroke-linecap="round" fill="none"/>
<path d="M668 972.5 L1461 1492" stroke="#3841a6" stroke-width="5.2" fill="none"/>
<path d="M668.0 973.0 L669.0 973.9 L669.9 974.9 L670.9 975.8 L671.9 976.8 L672.8 977.8 L673.8 978.8 L674.7 979.8 L675.7 980.8 L676.7 981.9 L677.6 982.9 L678.6 984.0 L679.6 985.1 L680.5 986.2 L681.5 987.3 L682.4 988.5 L683.4 989.6 L684.4 990.8 L685.3 992.0 L686.3 993.2 L687.3 994.4 L688.2 995.7 L689.2 997.0 L690.1 998.3 L691.1 999.6 L692.1 1000.9 L693.0 1002.3 L694.0 1003.7 L695.0 1005.1 L695.9 1006.6 L696.9 1008.0 L697.9 1009.5 L698.8 1011.0 L699.8 1012.6 L700.7 1014.2 L701.7 1015.8 L702.7 1017.4 L703.6 1019.1 L704.6 1020.7 L705.6 1022.5 L706.5 1024.2 L707.5 1026.0 L708.4 1027.9 L709.4 1029.7 L710.4 1031.6 L711.3 1033.6 L712.3 1035.5 L713.3 1037.6 L714.2 1039.6 L715.2 1041.7 L716.2 1043.9 L717.1 1046.1 L718.1 1048.3 L719.0 1050.6 L720.0 1052.9 L721.0 1055.3 L721.9 1057.8 L722.9 1060.3 L723.9 1062.8 L724.8 1065.5 L725.8 1068.1 L726.7 1070.9 L727.7 1073.7 L728.7 1076.6 L729.6 1079.5 L730.6 1082.6 L731.6 1085.6 L732.5 1088.8 L733.5 1092.1 L734.4 1095.4 L735.4 1098.9 L736.4 1102.4 L737.3 1106.0 L738.3 1109.7 L739.3 1113.6 L740.2 1117.5 L741.2 1121.5 L742.2 1125.7 L743.1 1130.0 L744.1 1134.4 L745.0 1138.9 L746.0 1143.6 L747.0 1148.5 L747.9 1153.4 L748.9 1158.6 L749.9 1163.9 L750.8 1169.4 L751.8 1175.1 L752.7 1181.0 L753.7 1187.0 L754.7 1193.3 L755.6 1199.9 L756.6 1206.6 L757.6 1213.6 L758.5 1220.9 L759.5 1228.5 L760.5 1236.4 L761.4 1244.6 L762.4 1253.1 L763.3 1262.0 L764.3 1271.3 L765.3 1281.0 L766.2 1291.1 L767.2 1301.7 L768.2 1312.8 L769.1 1324.4 L770.1 1336.6 L771.0 1349.5 L772.0 1363.0 L773.0 1377.2 L773.9 1392.2 L774.9 1408.0 L775.9 1424.8 L776.8 1442.6 L777.8 1461.4 L778.7 1481.5 L779.7 1502.9 L780.7 1525.7 L781.6 1550.2 L782.6 1576.4" stroke="#e0202c" stroke-width="4.2" fill="none"/>
<path d="M757 1208 L1066 1572" stroke="#f08425" stroke-width="4" fill="none"/>
<path d="M650 967 l9 8 l10 -8" stroke="#f2fbf8" stroke-width="5" fill="none" stroke-linejoin="round"/>
<rect x="761" y="1335" width="23" height="68" rx="11" fill="#e02633"/>
<g fill="#fbe9ea"><circle cx="767.5" cy="1347.0" r="2.6"/><circle cx="778.0" cy="1347.0" r="2.6"/><circle cx="767.5" cy="1358.2" r="2.6"/><circle cx="778.0" cy="1358.2" r="2.6"/><circle cx="767.5" cy="1369.4" r="2.6"/><circle cx="778.0" cy="1369.4" r="2.6"/><circle cx="767.5" cy="1380.6" r="2.6"/><circle cx="778.0" cy="1380.6" r="2.6"/><circle cx="767.5" cy="1391.8" r="2.6"/><circle cx="778.0" cy="1391.8" r="2.6"/></g>
<path d="M871.7 1342.0 l-12 11 h23 z" fill="#fff6d6" stroke="#f08425" stroke-width="3" stroke-linejoin="round"/><path d="M881.1 1353.0 l-12 11 h23 z" fill="#fff6d6" stroke="#f08425" stroke-width="3" stroke-linejoin="round"/><path d="M890.5 1364.0 l-12 11 h23 z" fill="#fff6d6" stroke="#f08425" stroke-width="3" stroke-linejoin="round"/><path d="M899.8 1375.0 l-12 11 h23 z" fill="#fff6d6" stroke="#f08425" stroke-width="3" stroke-linejoin="round"/><path d="M909.2 1386.0 l-12 11 h23 z" fill="#fff6d6" stroke="#f08425" stroke-width="3" stroke-linejoin="round"/>
<path d="M868 1339.5 L920 1400.6" stroke="#f08425" stroke-width="4" fill="none"/>
<rect x="1230.0" y="1337.7" width="19" height="19" fill="#3546ae"/><path d="M1233.0 1347.7 h8 v5 h-8z" fill="#f4f4ff"/><rect x="1244.8" y="1349.1" width="19" height="19" fill="#3546ae"/><path d="M1247.8 1359.1 h8 v5 h-8z" fill="#f4f4ff"/><rect x="1261.2" y="1359.3" width="19" height="19" fill="#3546ae"/><path d="M1264.2 1369.3 h8 v5 h-8z" fill="#f4f4ff"/><rect x="1280.2" y="1370.0" width="19" height="19" fill="#3546ae"/><path d="M1283.2 1380.0 h8 v5 h-8z" fill="#f4f4ff"/><rect x="1298.0" y="1380.6" width="19" height="19" fill="#3546ae"/><path d="M1301.0 1390.6 h8 v5 h-8z" fill="#f4f4ff"/>
<path d="M1089.0 1257.0 L1091.9 1264.0 L1099.5 1264.6 L1093.8 1269.5 L1095.5 1276.9 L1089.0 1273.0 L1082.5 1276.9 L1084.2 1269.5 L1078.5 1264.6 L1086.1 1264.0Z" fill="#aab2e6" stroke="#3546ae" stroke-width="3.4" stroke-linejoin="miter"/>
<circle cx="671.4" cy="974.3" r="27" fill="none" stroke="#1a1a1a" stroke-width="2.2" stroke-dasharray="14 9"/>
<circle cx="760" cy="1215" r="27" fill="none" stroke="#1a1a1a" stroke-width="2.2" stroke-dasharray="14 9"/>
<rect x="516.5" y="832.8" width="944.7" height="740.3" fill="none" stroke="#0d0d0d" stroke-width="9"/>
<text x="638.5" y="905.0" font-size="52" fill="#2e8a86" font-family="Liberation Serif, Noto Serif CJK SC, serif">黏度</text>
<text x="610.0" y="1031.0" font-size="60"><tspan font-style="italic">T</tspan><tspan font-size="40" dy="10">A</tspan></text>
<text x="550.0" y="1092.0" font-size="53" fill="#1a1a1a" font-family="Liberation Serif, Noto Serif CJK SC, serif">液体</text>
<text x="665.0" y="1255.0" font-size="60"><tspan font-style="italic">T</tspan><tspan font-size="38" dy="10" font-style="italic">α</tspan><tspan font-size="38">β</tspan></text>
<text x="562.0" y="1393.0" font-size="46" fill="#e0202c" font-style="italic">α</text>
<text x="593.0" y="1394.0" font-size="52" fill="#e0202c" font-family="Liberation Serif, Noto Serif CJK SC, serif">弛豫</text>
<text x="945.0" y="1373.0" font-size="50" fill="#f08030">β</text>
<text x="976.0" y="1373.0" font-size="52" fill="#f08030" font-family="Liberation Serif, Noto Serif CJK SC, serif">弛豫</text>
<text x="1221.0" y="1301.0" font-size="53.5" fill="#3546ae" font-family="Liberation Serif, Noto Serif CJK SC, serif">快弛豫</text>
<text x="1274.5" y="1520.0" font-size="52" fill="#1a1a1a" font-family="Liberation Serif, Noto Serif CJK SC, serif">玻璃</text>
<text x="495.5" y="848.5" font-size="55" text-anchor="end" textLength="27.0">5</text>
<text x="495.5" y="1031.5" font-size="55" text-anchor="end" textLength="28.0">0</text>
<text x="495.5" y="1214.5" font-size="55" text-anchor="end" textLength="27.0">5</text>
<rect x="419.5" y="1199.3" width="36.0" height="2.7" fill="#231f20"/>
<text x="495.5" y="1397.5" font-size="55" text-anchor="end" textLength="55.0">10</text>
<rect x="391.5" y="1382.3" width="36.0" height="2.7" fill="#231f20"/>
<text x="495.5" y="1580.5" font-size="55" text-anchor="end" textLength="55.0">15</text>
<rect x="391.5" y="1565.3" width="36.0" height="2.7" fill="#231f20"/>
<text x="662.6" y="1634.0" font-size="55" text-anchor="middle">1</text>
<text x="839.3" y="1634.0" font-size="55" text-anchor="middle">2</text>
<text x="1016.0" y="1634.0" font-size="55" text-anchor="middle">3</text>
<text x="1192.7" y="1634.0" font-size="55" text-anchor="middle">4</text>
<text x="1369.4" y="1634.0" font-size="55" text-anchor="middle">5</text>
<text x="825.0" y="1699.0" font-size="55" textLength="378.0">1000/T (1/K)</text>
<text x="361.0" y="1360.0" font-size="56" textLength="349.0" transform="rotate(-90 361.0 1360.0)">−log(<tspan font-style="italic">η</tspan>/Pa·s)</text>
<text x="1477.5" y="859.1" font-size="55" textLength="60.0">15</text>
<text x="1477.5" y="1040.0" font-size="55" textLength="60.0">10</text>
<text x="1479.5" y="1221.0" font-size="55" textLength="27.0">5</text>
<text x="1479.5" y="1402.5" font-size="55" textLength="28.0">0</text>
<rect x="1485.0" y="1568.8" width="36.0" height="2.7" fill="#231f20"/>
<text x="1532.0" y="1584.0" font-size="55" textLength="27.0">5</text>
<text x="1590.0" y="1343.0" font-size="56" textLength="254.0" transform="rotate(-90 1590.0 1343.0)">−log(<tspan font-style="italic">τ</tspan>/s)</text>
</g>
<g id="panelD">
<text x="1645.0" y="836.0" font-size="53" font-weight="bold" font-family="Liberation Sans, sans-serif">d</text>
<path d="M1802.0 1488.4 1804.3 1492.4 1806.6 1490.4 1808.9 1491.3 1811.2 1487.3 1813.5 1492.2 1815.8 1495.0 1818.1 1491.1 1820.4 1492.4 1822.7 1486.0 1825.0 1489.3 1827.3 1488.0 1829.6 1488.1 1831.9 1486.6 1834.2 1488.3 1836.5 1486.3 1838.8 1487.7 1841.1 1484.6 1843.4 1488.0 1845.7 1485.3 1848.0 1489.7 1850.3 1485.8 1852.6 1488.1 1854.9 1485.8 1857.2 1487.1 1859.5 1486.0 1861.8 1487.3 1864.1 1485.1 1866.4 1482.2 1868.7 1482.8 1871.0 1483.2 1873.3 1483.5 1875.6 1481.4 1877.9 1483.3 1880.2 1480.2 1882.5 1477.3 1884.8 1481.4 1887.1 1480.2 1889.4 1476.8 1891.7 1481.9 1894.0 1478.4 1896.3 1475.9 1898.6 1480.5 1900.9 1476.9 1903.2 1477.4 1905.5 1473.6 1907.8 1479.3 1910.1 1478.9 1912.4 1477.7 1914.7 1477.5 1917.0 1480.9 1919.3 1476.8 1921.6 1479.2 1923.9 1478.7 1926.2 1481.1 1928.5 1480.5 1930.8 1479.5 1933.1 1482.6 1935.4 1484.7 1937.7 1485.5 1940.0 1486.3 1942.3 1475.0 1944.6 1487.2 1946.9 1483.6 1949.2 1486.0 1951.5 1485.6 1953.8 1486.5 1956.1 1491.1 1958.4 1489.2 1960.7 1487.9 1963.0 1491.2 1965.3 1489.6 1967.6 1492.7 1969.9 1493.6 1972.2 1486.1 1974.5 1494.4 1976.8 1494.1 1979.1 1492.7 1981.4 1495.2 1983.7 1491.6 1986.0 1492.0 1988.3 1491.0 1990.6 1490.8 1992.9 1488.0 1995.2 1491.5 1997.5 1491.0 1999.8 1491.1 2002.1 1487.1 2004.4 1483.9 2006.7 1483.6 2009.0 1489.5 2011.3 1483.6 2013.6 1488.6 2015.9 1484.9 2018.2 1483.4 2020.5 1485.1 2022.8 1481.3 2025.1 1483.9 2027.4 1482.2 2029.7 1484.1 2032.0 1477.7 2034.3 1479.1 2036.6 1481.6 2038.9 1477.1 2041.2 1480.7 2043.5 1476.7 2045.8 1478.4 2048.1 1479.8 2050.4 1477.5 2052.7 1473.2 2055.0 1473.0 2057.3 1475.1 2059.6 1473.2 2061.9 1472.3 2064.2 1474.0 2066.5 1475.6 2068.8 1472.9 2071.1 1469.1 2073.4 1474.3 2075.7 1473.7 2078.0 1471.9 2080.3 1470.0 2082.6 1468.6 2084.9 1468.6 2087.2 1470.4 2089.5 1469.4 2091.8 1471.4 2094.1 1466.0 2096.4 1466.4 2098.7 1471.7 2101.0 1467.2 2103.3 1468.5 2105.6 1466.8 2107.9 1470.8 2110.2 1472.1 2112.5 1472.7 2114.8 1468.4 2117.1 1470.0 2119.4 1471.5 2121.7 1467.5 2124.0 1469.8 2126.3 1471.3 2128.6 1469.1 2130.9 1475.6 2133.2 1470.2 2135.5 1474.1 2137.8 1473.9 2140.1 1475.1 2142.4 1474.7 2144.7 1473.2 2147.0 1473.9 2149.3 1475.6 2151.6 1477.4 2153.9 1476.2 2156.2 1476.2 2158.5 1480.1 2160.8 1476.6 2163.1 1478.3 2165.4 1478.6 2167.7 1474.5 2170.0 1474.7 2172.3 1474.4 2174.6 1477.9 2176.9 1478.5 2179.2 1478.5 2181.5 1475.6 2183.8 1472.1 2186.1 1472.2 2188.4 1477.2 2190.7 1472.1 2193.0 1472.8 2195.3 1470.7 2197.6 1469.1 2199.9 1467.8 2202.2 1473.2 2204.5 1472.7 2206.8 1471.1 2209.1 1466.6 2211.4 1465.9 2213.7 1468.8 2216.0 1464.1 2218.3 1468.5 2220.6 1466.1 2222.9 1464.8 2225.2 1463.4 2227.5 1460.5 2229.8 1462.5 2232.1 1459.4 2234.4 1459.1 2236.7 1459.2 2239.0 1459.3 2241.3 1460.0 2243.6 1455.1 2245.9 1457.6 2248.2 1456.3 2250.5 1456.2 2252.8 1454.4 2255.1 1453.9 2257.4 1452.8 2259.7 1451.2 2262.0 1450.4 2264.3 1449.5 2266.6 1448.8 2268.9 1447.6 2271.2 1445.1 2273.5 1444.5 2275.8 1442.0 2278.1 1440.7 2280.4 1440.1 2282.7 1439.3 2285.0 1436.6 2287.3 1436.3 2289.6 1435.1 2291.9 1432.6 2294.2 1431.9 2296.5 1430.8 2298.8 1428.5 2301.1 1427.7 2303.4 1426.4 2305.7 1424.8 2308.0 1423.9 2310.3 1422.6 2312.6 1421.3 2314.9 1419.2 2317.2 1416.9 2319.5 1415.4 2321.8 1413.6 2324.1 1412.4 2326.4 1410.7 2328.7 1407.3 2331.0 1406.2 2333.3 1403.9 2335.6 1400.8 2337.9 1398.6 2340.2 1395.4 2342.5 1393.9 2344.8 1390.0 2347.1 1389.1 2349.4 1386.2 2351.7 1383.3 2354.0 1380.0 2356.3 1378.4 2358.6 1375.7 2360.9 1371.4 2363.2 1369.7 2365.5 1366.9 2367.8 1363.7 2370.1 1361.0 2372.4 1357.7 2374.7 1355.8 2377.0 1353.1 2379.3 1349.4 2381.6 1347.6 2383.9 1344.4 2386.2 1341.4 2388.5 1339.2 2390.8 1336.4 2393.1 1335.4 2395.4 1333.0 2397.7 1329.1 2400.0 1327.6 2402.3 1324.8 2404.6 1321.9 2406.9 1319.9 2409.2 1317.4 2411.5 1316.0 2413.8 1312.2 2416.1 1310.1 2418.4 1308.1 2420.7 1304.8 2423.0 1303.4 2425.3 1300.9 2427.6 1298.8 2429.9 1295.2 2432.2 1292.9 2434.5 1291.0 2436.8 1288.3 2439.1 1286.7 2441.4 1284.0 2443.7 1282.9 2446.0 1281.3 2448.3 1279.6 2450.6 1278.3 2452.9 1276.0 2455.2 1274.4 2457.5 1273.6 2459.8 1272.1 2462.1 1270.4 2464.4 1268.8 2466.7 1267.4 2469.0 1266.0 2471.3 1266.1 2473.6 1263.9 2475.9 1264.1 2478.2 1262.8 2480.5 1262.7 2482.8 1261.5 2485.1 1261.1 2487.4 1258.9 2489.7 1258.8 2492.0 1258.3 2494.3 1257.1 2496.6 1256.9 2498.9 1256.0 2501.2 1255.8 2503.5 1254.3 2505.8 1254.6 2508.1 1254.2 2510.4 1253.5 2512.7 1253.2 2515.0 1253.5 2517.3 1252.9 2519.6 1252.1 2521.9 1251.9 2524.2 1251.0 2526.5 1250.1 2528.8 1249.3 2531.1 1249.3 2533.4 1249.4 2535.7 1249.4 2538.0 1248.8 2540.3 1247.7 2542.6 1247.9 2544.9 1246.4 2547.2 1246.4 2549.5 1245.0 2551.8 1244.9 2554.1 1244.5 2556.4 1242.4 2558.7 1241.2 2561.0 1241.0 2563.3 1239.9 2565.6 1238.5 2567.9 1236.7 2570.2 1236.3 2572.5 1235.2 2574.8 1233.9 2577.1 1233.5 2579.4 1231.8 2581.7 1230.7 2584.0 1229.6 2586.3 1227.9 2588.6 1226.0 2590.9 1224.9 2593.2 1223.2 2595.5 1221.6 2597.8 1219.9 2600.1 1217.8 2602.4 1216.4 2604.7 1214.6 2607.0 1213.3 2609.3 1211.1 2611.6 1209.2 2613.9 1207.0 2616.2 1205.0 2618.5 1202.4 2620.8 1199.7 2623.1 1197.2 2625.4 1195.6 2627.7 1193.3 2630.0 1190.1 2632.3 1186.5 2634.6 1184.6 2636.9 1180.7 2639.2 1177.1 2641.5 1172.7 2643.8 1169.8 2646.1 1166.5 2648.4 1162.1 2650.7 1158.3 2653.0 1155.3 2655.3 1150.7 2657.6 1148.2 2659.9 1145.7 2662.2 1141.9 2664.5 1138.0 2666.8 1135.1 2669.1 1131.5 2671.4 1127.2 2673.7 1123.4 2676.0 1120.7 2678.3 1115.4 2680.6 1110.6 2682.9 1107.2 2685.2 1101.8 2687.5 1096.6 2689.8 1092.0 2692.0 1087.5 2694.3 1081.6 2696.6 1077.8 2698.9 1073.3 2701.2 1068.8 2703.5 1062.8 2705.7 1058.2 2707.7 1052.3 2709.6 1047.4 2711.2 1041.2 2712.6 1036.9 2714.0 1031.8 2715.3 1025.5 2716.6 1020.1 2718.0 1016.3 2719.3 1010.7 2720.8 1006.0 2722.4 999.5 2724.0 996.1 2725.8 990.6 2727.6 985.0 2729.4 980.0 2731.1 975.5 2732.8 970.2 2734.5 963.8 2736.0 959.2 2737.4 952.9 2738.7 949.1 2740.0 942.9 2741.3 938.5 2742.6 933.1 2744.0 927.9 2745.6 922.5 2747.3 918.0 2749.2 912.4 2751.1 907.7 2753.3 904.2 2755.6 899.3 2757.9 896.0 2760.2 892.2 2762.5 891.4 2764.8 890.2 2767.1 888.7 2769.4 888.4 2771.7 889.7 2774.0 891.1 2776.3 892.0 2778.6 894.9 2780.9 898.3 2783.2 903.7 2785.5 909.9 2787.3 914.3 2788.8 919.5 2790.2 926.1 2791.4 932.1 2792.5 938.0 2793.4 942.9 2794.3 947.9 2795.1 954.2 2795.9 958.4" fill="none" stroke="none" marker-start="url(#m1)" marker-mid="url(#m1)" marker-end="url(#m1)"/>
<path d="M1802.0 1492.9 1804.3 1486.6 1806.6 1491.8 1808.9 1490.4 1811.2 1489.8 1813.5 1489.5 1815.8 1488.3 1818.1 1490.1 1820.4 1491.4 1822.7 1487.8 1825.0 1484.8 1827.3 1487.6 1829.6 1486.8 1831.9 1487.7 1834.2 1485.5 1836.5 1486.0 1838.8 1487.1 1841.1 1488.0 1843.4 1489.3 1845.7 1488.0 1848.0 1488.0 1850.3 1485.0 1852.6 1488.8 1854.9 1487.0 1857.2 1484.6 1859.5 1484.4 1861.8 1484.0 1864.1 1482.5 1866.4 1485.6 1868.7 1482.9 1871.0 1483.4 1873.3 1479.5 1875.6 1482.2 1877.9 1483.2 1880.2 1482.8 1882.5 1482.6 1884.8 1479.1 1887.1 1479.6 1889.4 1476.8 1891.7 1477.7 1894.0 1478.0 1896.3 1478.9 1898.6 1479.2 1900.9 1477.9 1903.2 1477.1 1905.5 1474.1 1907.8 1473.4 1910.1 1478.7 1912.4 1474.6 1914.7 1476.4 1917.0 1474.2 1919.3 1475.6 1921.6 1475.5 1923.9 1475.6 1926.2 1476.0 1928.5 1481.9 1930.8 1478.2 1933.1 1480.2 1935.4 1485.0 1937.7 1479.2 1940.0 1483.8 1942.3 1481.0 1944.6 1481.2 1946.9 1487.0 1949.2 1488.8 1951.5 1489.4 1953.8 1487.6 1956.1 1489.7 1958.4 1486.7 1960.7 1492.7 1963.0 1491.3 1965.3 1491.4 1967.6 1494.8 1969.9 1492.6 1972.2 1488.7 1974.5 1489.5 1976.8 1488.5 1979.1 1488.6 1981.4 1491.0 1983.7 1493.4 1986.0 1488.2 1988.3 1487.8 1990.6 1489.8 1992.9 1489.8 1995.2 1487.4 1997.5 1484.2 1999.8 1486.5 2002.1 1488.2 2004.4 1483.5 2006.7 1483.9 2009.0 1485.4 2011.3 1483.5 2013.6 1482.4 2015.9 1487.0 2018.2 1482.9 2020.5 1483.4 2022.8 1481.8 2025.1 1479.6 2027.4 1483.3 2029.7 1480.7 2032.0 1480.7 2034.3 1482.6 2036.6 1475.4 2038.9 1475.3 2041.2 1479.7 2043.5 1473.4 2045.8 1475.5 2048.1 1473.5 2050.4 1472.1 2052.7 1473.6 2055.0 1471.0 2057.3 1471.4 2059.6 1472.3 2061.9 1474.4 2064.2 1469.7 2066.5 1469.1 2068.8 1472.5 2071.1 1472.5 2073.4 1471.9 2075.7 1472.0 2078.0 1469.2 2080.3 1471.8 2082.6 1469.7 2084.9 1472.3 2087.2 1471.9 2089.5 1467.3 2091.8 1468.4 2094.1 1467.8 2096.4 1471.0 2098.7 1470.2 2101.0 1467.0 2103.3 1465.6 2105.6 1465.1 2107.9 1470.8 2110.2 1469.3 2112.5 1467.2 2114.8 1470.0 2117.1 1468.7 2119.4 1466.8 2121.7 1472.9 2124.0 1467.5 2126.3 1472.1 2128.6 1473.7 2130.9 1472.8 2133.2 1475.2 2135.5 1472.8 2137.8 1472.3 2140.1 1473.7 2142.4 1471.2 2144.7 1473.8 2147.0 1475.8 2149.3 1476.3 2151.6 1478.6 2153.9 1477.6 2156.2 1478.2 2158.5 1474.8 2160.8 1476.3 2163.1 1480.2 2165.4 1473.6 2167.7 1478.2 2170.0 1477.5 2172.3 1472.8 2174.6 1477.2 2176.9 1477.9 2179.2 1471.8 2181.5 1475.7 2183.8 1474.9 2186.1 1470.5 2188.4 1469.5 2190.7 1470.8 2193.0 1471.1 2195.3 1468.1 2197.6 1471.1 2199.9 1471.3 2202.2 1470.3 2204.5 1469.3 2206.8 1466.2 2209.1 1464.1 2211.4 1468.7 2213.7 1468.3 2216.0 1465.6 2218.3 1467.9 2220.6 1463.1 2222.9 1464.4 2225.2 1469.6 2227.5 1467.6 2229.8 1464.4 2232.1 1463.3 2234.4 1462.0 2236.7 1462.8 2239.0 1465.3 2241.3 1464.2 2243.6 1462.5 2245.9 1462.0 2248.2 1462.8 2250.5 1460.1 2252.8 1459.0 2255.1 1458.6 2257.4 1458.4 2259.7 1457.5 2262.0 1456.4 2264.3 1454.9 2266.6 1453.9 2268.9 1453.3 2271.2 1451.9 2273.5 1450.9 2275.8 1451.1 2278.1 1448.5 2280.4 1448.6 2282.7 1446.7 2285.0 1445.5 2287.3 1444.3 2289.6 1442.6 2291.9 1442.1 2294.2 1440.4 2296.5 1439.7 2298.8 1438.2 2301.1 1438.1 2303.4 1437.0 2305.7 1434.8 2308.0 1433.9 2310.3 1433.1 2312.6 1430.7 2314.9 1428.9 2317.2 1427.7 2319.5 1426.1 2321.8 1425.5 2324.1 1423.5 2326.4 1421.9 2328.7 1421.0 2331.0 1418.4 2333.3 1417.7 2335.6 1415.6 2337.9 1413.3 2340.2 1412.2 2342.5 1409.4 2344.8 1408.3 2347.1 1406.4 2349.4 1403.6 2351.7 1401.8 2354.0 1400.1 2356.3 1397.4 2358.6 1395.2 2360.9 1393.0 2363.2 1390.8 2365.5 1388.0 2367.8 1385.9 2370.1 1382.1 2372.4 1380.2 2374.7 1377.6 2377.0 1374.4 2379.3 1371.6 2381.6 1368.3 2383.9 1366.7 2386.2 1362.6 2388.5 1359.8 2390.8 1357.7 2393.1 1353.6 2395.4 1352.4 2397.7 1348.4 2400.0 1345.7 2402.3 1343.9 2404.6 1341.6 2406.9 1340.2 2409.2 1337.9 2411.5 1335.4 2413.8 1332.6 2416.1 1330.6 2418.4 1327.9 2420.7 1326.8 2423.0 1323.9 2425.3 1321.6 2427.6 1320.1 2429.9 1317.1 2432.2 1315.3 2434.5 1314.3 2436.8 1310.7 2439.1 1308.6 2441.4 1306.5 2443.7 1304.4 2446.0 1302.5 2448.3 1300.0 2450.6 1298.0 2452.9 1295.7 2455.2 1293.6 2457.5 1292.2 2459.8 1289.7 2462.1 1287.9 2464.4 1286.7 2466.7 1283.6 2469.0 1282.1 2471.3 1281.8 2473.6 1279.5 2475.9 1278.7 2478.2 1276.2 2480.5 1275.5 2482.8 1274.8 2485.1 1272.7 2487.4 1272.3 2489.7 1270.9 2492.0 1269.4 2494.3 1269.4 2496.6 1267.3 2498.9 1266.4 2501.2 1265.7 2503.5 1264.2 2505.8 1264.3 2508.1 1263.0 2510.4 1262.1 2512.7 1261.2 2515.0 1261.2 2517.3 1260.5 2519.6 1259.4 2521.9 1258.0 2524.2 1257.1 2526.5 1256.5 2528.8 1254.9 2531.1 1254.3 2533.4 1255.1 2535.7 1252.8 2538.0 1253.6 2540.3 1252.4 2542.6 1252.1 2544.9 1249.9 2547.2 1249.5 2549.5 1249.7 2551.8 1247.5 2554.1 1247.0 2556.4 1246.7 2558.7 1245.7 2561.0 1245.0 2563.3 1245.2 2565.6 1243.5 2567.9 1244.3 2570.2 1243.0 2572.5 1241.1 2574.8 1241.8 2577.1 1239.8 2579.4 1239.3 2581.7 1238.5 2584.0 1236.9 2586.3 1236.6 2588.6 1234.8 2590.9 1234.0 2593.2 1234.2 2595.5 1232.9 2597.8 1231.2 2600.1 1230.3 2602.4 1229.3 2604.7 1226.6 2607.0 1225.7 2609.3 1223.4 2611.6 1221.7 2613.9 1220.0 2616.2 1218.4 2618.5 1216.3 2620.8 1214.8 2623.1 1213.3 2625.4 1211.9 2627.7 1210.5 2630.0 1208.8 2632.3 1206.7 2634.6 1204.5 2636.9 1203.3 2639.2 1200.0 2641.5 1197.9 2643.8 1197.0 2646.1 1194.4 2648.4 1191.3 2650.7 1189.0 2653.0 1185.9 2655.3 1182.9 2657.6 1179.4 2659.9 1175.6 2662.2 1172.5 2664.5 1168.5 2666.8 1164.0 2669.1 1159.9 2671.4 1155.6 2673.7 1152.7 2676.0 1149.3 2678.3 1144.1 2680.6 1141.1 2682.9 1137.2 2685.2 1133.1 2687.5 1127.8 2689.8 1124.4 2692.1 1119.3 2694.4 1114.5 2696.7 1110.2 2698.9 1105.3 2701.1 1100.2 2703.1 1095.3 2705.2 1090.2 2707.1 1084.7 2709.0 1078.7 2710.8 1074.8 2712.6 1069.7 2714.3 1064.5 2716.0 1058.9 2717.6 1052.6 2719.1 1047.6 2720.6 1042.1 2722.0 1037.7 2723.3 1032.3 2724.7 1026.4 2726.0 1022.5 2727.3 1017.4 2728.7 1012.1 2730.0 1006.2 2731.5 1000.8 2733.0 995.5 2734.5 991.4 2736.0 986.1 2737.6 980.2 2739.2 976.2 2740.8 970.4 2742.4 965.0 2744.0 959.8 2745.5 955.2 2747.1 949.6 2748.7 944.8 2750.4 938.8 2752.1 934.8 2753.8 929.1 2755.7 925.1 2757.5 918.9 2759.4 914.4 2761.6 910.4 2763.9 906.1 2766.2 902.7 2768.5 901.0 2770.8 898.9 2773.1 899.4 2775.4 899.0 2777.7 899.0 2780.0 899.4 2782.3 901.8 2784.6 904.7 2786.9 908.0 2789.2 911.7 2791.4 919.1 2792.2 926.2 2792.8 931.7 2793.3 937.9 2793.7 943.8 2794.1 948.9 2794.5 954.3 2794.8 960.4 2795.0 967.2 2795.2 972.4" fill="none" stroke="none" marker-start="url(#m2)" marker-mid="url(#m2)" marker-end="url(#m2)"/>
<path d="M1802.0 1495.1 1804.3 1495.8 1806.6 1497.3 1808.9 1493.0 1811.2 1494.5 1813.5 1499.3 1815.8 1498.0 1818.1 1496.5 1820.4 1496.3 1822.7 1495.3 1825.0 1496.2 1827.3 1496.6 1829.6 1493.3 1831.9 1497.0 1834.2 1495.8 1836.5 1495.6 1838.8 1493.3 1841.1 1493.5 1843.4 1496.2 1845.7 1491.0 1848.0 1496.4 1850.3 1493.8 1852.6 1492.7 1854.9 1491.3 1857.2 1492.5 1859.5 1492.7 1861.8 1493.4 1864.1 1491.6 1866.4 1492.4 1868.7 1492.1 1871.0 1490.3 1873.3 1490.6 1875.6 1486.4 1877.9 1489.8 1880.2 1484.2 1882.5 1485.9 1884.8 1484.7 1887.1 1488.1 1889.4 1485.9 1891.7 1486.1 1894.0 1486.8 1896.3 1483.8 1898.6 1482.1 1900.9 1483.9 1903.2 1481.0 1905.5 1483.8 1907.8 1480.0 1910.1 1482.0 1912.4 1486.3 1914.7 1483.7 1917.0 1485.4 1919.3 1485.2 1921.6 1488.3 1923.9 1485.3 1926.2 1484.5 1928.5 1490.0 1930.8 1490.5 1933.1 1488.6 1935.4 1489.5 1937.7 1486.4 1940.0 1489.8 1942.3 1489.7 1944.6 1493.0 1946.9 1489.2 1949.2 1496.2 1951.5 1493.6 1953.8 1493.6 1956.1 1494.4 1958.4 1497.1 1960.7 1496.3 1963.0 1494.5 1965.3 1499.9 1967.6 1496.8 1969.9 1497.1 1972.2 1498.6 1974.5 1496.2 1976.8 1497.6 1979.1 1498.0 1981.4 1495.7 1983.7 1498.5 1986.0 1496.6 1988.3 1493.9 1990.6 1493.8 1992.9 1497.7 1995.2 1493.5 1997.5 1495.5 1999.8 1493.0 2002.1 1492.2 2004.4 1491.7 2006.7 1492.2 2009.0 1491.7 2011.3 1504.9 2013.6 1494.0 2015.9 1490.4 2018.2 1493.3 2020.5 1491.6 2022.8 1490.5 2025.1 1487.4 2027.4 1486.3 2029.7 1488.2 2032.0 1489.1 2034.3 1489.0 2036.6 1488.5 2038.9 1487.7 2041.2 1481.1 2043.5 1481.5 2045.8 1484.2 2048.1 1481.9 2050.4 1482.7 2052.7 1479.7 2055.0 1480.8 2057.3 1479.5 2059.6 1480.3 2061.9 1477.5 2064.2 1482.2 2066.5 1489.0 2068.8 1481.0 2071.1 1476.6 2073.4 1478.0 2075.7 1477.3 2078.0 1473.7 2080.3 1474.3 2082.6 1473.6 2084.9 1478.6 2087.2 1476.0 2089.5 1474.4 2091.8 1476.5 2094.1 1474.4 2096.4 1474.0 2098.7 1475.5 2101.0 1474.2 2103.3 1472.8 2105.6 1475.8 2107.9 1474.3 2110.2 1476.2 2112.5 1474.7 2114.8 1477.2 2117.1 1477.4 2119.4 1474.7 2121.7 1478.1 2124.0 1476.7 2126.3 1480.2 2128.6 1477.2 2130.9 1480.4 2133.2 1478.6 2135.5 1481.4 2137.8 1482.3 2140.1 1481.2 2142.4 1480.9 2144.7 1477.7 2147.0 1483.3 2149.3 1479.2 2151.6 1485.1 2153.9 1479.7 2156.2 1480.8 2158.5 1484.9 2160.8 1487.0 2163.1 1486.0 2165.4 1485.8 2167.7 1485.2 2170.0 1485.2 2172.3 1480.2 2174.6 1483.3 2176.9 1480.6 2179.2 1480.2 2181.5 1483.1 2183.8 1479.9 2186.1 1479.2 2188.4 1476.8 2190.7 1482.3 2193.0 1480.2 2195.3 1479.3 2197.6 1478.7 2199.9 1476.9 2202.2 1479.3 2204.5 1473.4 2206.8 1478.6 2209.1 1475.0 2211.4 1472.9 2213.7 1472.6 2216.0 1473.0 2218.3 1475.2 2220.6 1472.2 2222.9 1472.6 2225.2 1473.4 2227.5 1470.5 2229.8 1471.9 2232.1 1469.4 2234.4 1470.0 2236.7 1468.4 2239.0 1470.2 2241.3 1469.7 2243.6 1471.6 2245.9 1468.8 2248.2 1470.8 2250.5 1468.3 2252.8 1468.1 2255.1 1466.6 2257.4 1465.6 2259.7 1464.9 2262.0 1465.1 2264.3 1464.3 2266.6 1464.1 2268.9 1463.1 2271.2 1461.2 2273.5 1460.3 2275.8 1459.6 2278.1 1458.6 2280.4 1458.6 2282.7 1458.0 2285.0 1457.2 2287.3 1455.0 2289.6 1455.2 2291.9 1453.2 2294.2 1452.4 2296.5 1452.0 2298.8 1449.8 2301.1 1448.8 2303.4 1449.0 2305.7 1446.8 2308.0 1445.7 2310.3 1444.8 2312.6 1443.6 2314.9 1441.1 2317.2 1440.3 2319.5 1439.1 2321.8 1437.8 2324.1 1436.0 2326.4 1435.4 2328.7 1434.8 2331.0 1432.5 2333.3 1431.5 2335.6 1429.5 2337.9 1428.6 2340.2 1428.0 2342.5 1425.8 2344.8 1425.8 2347.1 1424.5 2349.4 1421.6 2351.7 1421.7 2354.0 1419.1 2356.3 1418.2 2358.6 1416.4 2360.9 1413.8 2363.2 1412.6 2365.5 1410.6 2367.8 1408.9 2370.1 1405.9 2372.4 1404.8 2374.7 1403.1 2377.0 1400.5 2379.3 1398.1 2381.6 1395.2 2383.9 1393.7 2386.2 1391.2 2388.5 1389.6 2390.8 1387.2 2393.1 1384.6 2395.4 1381.5 2397.7 1379.8 2400.0 1377.2 2402.3 1373.7 2404.6 1372.1 2406.9 1368.6 2409.2 1364.5 2411.5 1362.8 2413.8 1358.2 2416.1 1355.5 2418.4 1353.4 2420.7 1350.5 2423.0 1348.0 2425.3 1345.8 2427.6 1343.2 2429.9 1340.7 2432.2 1338.3 2434.5 1336.0 2436.8 1335.1 2439.1 1333.2 2441.4 1330.8 2443.7 1329.3 2446.0 1326.6 2448.3 1324.5 2450.6 1322.8 2452.9 1321.8 2455.2 1318.3 2457.5 1317.2 2459.8 1314.7 2462.1 1313.6 2464.4 1310.9 2466.7 1308.9 2469.0 1307.0 2471.3 1305.3 2473.6 1303.7 2475.9 1300.9 2478.2 1299.8 2480.5 1296.3 2482.8 1294.5 2485.1 1292.0 2487.4 1289.9 2489.7 1289.0 2492.0 1286.8 2494.3 1283.9 2496.6 1282.0 2498.9 1280.7 2501.2 1279.6 2503.5 1278.1 2505.8 1276.5 2508.1 1274.7 2510.4 1272.4 2512.7 1271.5 2515.0 1269.7 2517.3 1269.0 2519.6 1267.9 2521.9 1266.0 2524.2 1264.9 2526.5 1264.8 2528.8 1262.4 2531.1 1262.8 2533.4 1262.0 2535.7 1261.2 2538.0 1259.3 2540.3 1258.7 2542.6 1257.9 2544.9 1257.1 2547.2 1256.9 2549.5 1255.5 2551.8 1254.0 2554.1 1254.1 2556.4 1252.5 2558.7 1251.9 2561.0 1251.3 2563.3 1249.1 2565.6 1249.7 2567.9 1248.7 2570.2 1247.6 2572.5 1246.8 2574.8 1246.0 2577.1 1244.8 2579.4 1244.8 2581.7 1243.2 2584.0 1243.5 2586.3 1243.2 2588.6 1242.2 2590.9 1241.8 2593.2 1241.9 2595.5 1241.1 2597.8 1239.1 2600.1 1239.5 2602.4 1238.4 2604.7 1236.5 2607.0 1236.1 2609.3 1235.0 2611.6 1233.7 2613.9 1233.5 2616.2 1233.1 2618.5 1231.0 2620.8 1230.8 2623.1 1229.3 2625.4 1227.1 2627.7 1227.2 2630.0 1225.5 2632.3 1224.7 2634.6 1222.9 2636.9 1221.5 2639.2 1219.3 2641.5 1218.6 2643.8 1217.3 2646.1 1215.5 2648.4 1213.1 2650.7 1211.9 2653.0 1209.7 2655.3 1207.3 2657.6 1205.4 2659.9 1203.6 2662.2 1201.8 2664.5 1199.7 2666.8 1198.1 2669.1 1196.1 2671.4 1193.2 2673.7 1190.2 2676.0 1187.5 2678.3 1183.1 2680.6 1179.2 2682.9 1175.1 2685.2 1169.6 2687.5 1164.3 2689.7 1160.6 2692.0 1155.5 2694.3 1149.9 2696.5 1144.9 2698.7 1140.2 2700.9 1135.3 2703.0 1129.6 2705.0 1124.1 2707.0 1119.4 2709.0 1115.3 2710.8 1108.9 2712.6 1104.3 2714.4 1098.7 2716.1 1093.5 2717.7 1088.3 2719.4 1083.6 2721.1 1078.0 2722.7 1072.6 2724.3 1067.5 2725.9 1062.3 2727.4 1057.6 2728.9 1051.5 2730.3 1046.0 2731.6 1041.3 2732.8 1035.9 2734.0 1031.1 2735.1 1024.6 2736.2 1020.0 2737.4 1014.8 2738.6 1009.1 2739.9 1005.7 2741.3 999.2 2742.7 993.9 2744.2 989.4 2745.7 983.8 2747.2 979.5 2748.8 974.0 2750.5 968.5 2752.2 963.4 2754.0 959.5 2755.8 953.7 2757.6 949.7 2759.6 944.3 2761.7 940.6 2764.0 934.9 2766.3 930.7 2768.6 927.5 2770.9 926.2 2773.2 923.8 2775.5 921.8 2777.8 920.9 2780.1 922.2 2782.4 923.4 2784.7 923.8 2787.0 925.0 2789.3 931.9 2790.7 939.3 2791.3 945.7 2791.8 951.3 2792.3 957.0 2792.6 963.7 2793.0 969.7 2793.4 973.9 2793.7 980.8" fill="none" stroke="none" marker-start="url(#m3)" marker-mid="url(#m3)" marker-end="url(#m3)"/>
<path d="M1802.0 1499.0 1804.3 1499.9 1806.6 1497.5 1808.9 1503.1 1811.2 1501.9 1813.5 1500.2 1815.8 1497.5 1818.1 1497.6 1820.4 1501.6 1822.7 1501.2 1825.0 1497.7 1827.3 1500.4 1829.6 1501.2 1831.9 1499.2 1834.2 1498.4 1836.5 1498.0 1838.8 1501.0 1841.1 1498.2 1843.4 1500.4 1845.7 1500.0 1848.0 1497.3 1850.3 1497.6 1852.6 1494.4 1854.9 1498.4 1857.2 1492.8 1859.5 1493.9 1861.8 1494.8 1864.1 1497.8 1866.4 1493.3 1868.7 1494.3 1871.0 1491.9 1873.3 1491.1 1875.6 1494.6 1877.9 1488.4 1880.2 1492.8 1882.5 1488.7 1884.8 1487.9 1887.1 1486.5 1889.4 1491.8 1891.7 1490.2 1894.0 1484.9 1896.3 1490.9 1898.6 1486.8 1900.9 1488.0 1903.2 1485.6 1905.5 1486.6 1907.8 1486.3 1910.1 1480.0 1912.4 1485.3 1914.7 1487.0 1917.0 1485.6 1919.3 1488.3 1921.6 1486.3 1923.9 1487.5 1926.2 1487.9 1928.5 1490.7 1930.8 1494.8 1933.1 1492.2 1935.4 1492.1 1937.7 1493.2 1940.0 1493.4 1942.3 1494.1 1944.6 1498.1 1946.9 1496.2 1949.2 1495.4 1951.5 1496.0 1953.8 1501.3 1956.1 1496.6 1958.4 1500.9 1960.7 1500.5 1963.0 1502.8 1965.3 1503.9 1967.6 1499.9 1969.9 1505.5 1972.2 1505.9 1974.5 1504.0 1976.8 1503.7 1979.1 1502.6 1981.4 1503.2 1983.7 1504.4 1986.0 1498.1 1988.3 1503.6 1990.6 1496.8 1992.9 1496.9 1995.2 1500.1 1997.5 1496.3 1999.8 1498.6 2002.1 1500.6 2004.4 1493.8 2006.7 1493.5 2009.0 1493.7 2011.3 1497.8 2013.6 1495.7 2015.9 1492.9 2018.2 1493.2 2020.5 1495.7 2022.8 1493.5 2025.1 1489.6 2027.4 1492.1 2029.7 1492.3 2032.0 1490.0 2034.3 1503.4 2036.6 1491.9 2038.9 1489.3 2041.2 1490.3 2043.5 1485.9 2045.8 1490.3 2048.1 1483.9 2050.4 1488.6 2052.7 1485.0 2055.0 1486.8 2057.3 1487.1 2059.6 1482.7 2061.9 1483.2 2064.2 1481.1 2066.5 1480.7 2068.8 1482.5 2071.1 1482.5 2073.4 1483.5 2075.7 1481.8 2078.0 1482.6 2080.3 1477.9 2082.6 1482.9 2084.9 1482.0 2087.2 1480.8 2089.5 1480.5 2091.8 1482.3 2094.1 1482.1 2096.4 1481.7 2098.7 1479.8 2101.0 1476.6 2103.3 1478.1 2105.6 1476.6 2107.9 1476.7 2110.2 1477.1 2112.5 1478.7 2114.8 1478.8 2117.1 1477.3 2119.4 1483.4 2121.7 1481.9 2124.0 1479.9 2126.3 1478.4 2128.6 1484.3 2130.9 1484.5 2133.2 1480.5 2135.5 1483.2 2137.8 1486.6 2140.1 1487.2 2142.4 1485.4 2144.7 1486.6 2147.0 1487.7 2149.3 1488.8 2151.6 1487.1 2153.9 1488.3 2156.2 1485.5 2158.5 1488.6 2160.8 1490.6 2163.1 1487.3 2165.4 1486.5 2167.7 1484.7 2170.0 1488.3 2172.3 1488.8 2174.6 1491.1 2176.9 1485.7 2179.2 1491.2 2181.5 1490.9 2183.8 1486.7 2186.1 1486.4 2188.4 1490.9 2190.7 1489.9 2193.0 1486.2 2195.3 1491.0 2197.6 1490.0 2199.9 1488.3 2202.2 1486.4 2204.5 1485.6 2206.8 1484.6 2209.1 1485.0 2211.4 1490.7 2213.7 1489.8 2216.0 1488.4 2218.3 1489.6 2220.6 1487.6 2222.9 1487.0 2225.2 1485.7 2227.5 1482.5 2229.8 1484.3 2232.1 1481.7 2234.4 1481.8 2236.7 1484.2 2239.0 1481.3 2241.3 1481.4 2243.6 1499.8 2245.9 1478.5 2248.2 1482.8 2250.5 1479.4 2252.8 1479.5 2255.1 1478.8 2257.4 1478.7 2259.7 1477.1 2262.0 1477.6 2264.3 1477.3 2266.6 1476.1 2268.9 1475.7 2271.2 1475.0 2273.5 1473.3 2275.8 1473.4 2278.1 1472.6 2280.4 1471.3 2282.7 1469.7 2285.0 1469.8 2287.3 1469.5 2289.6 1467.5 2291.9 1467.3 2294.2 1466.9 2296.5 1465.5 2298.8 1463.6 2301.1 1463.8 2303.4 1462.2 2305.7 1462.4 2308.0 1461.1 2310.3 1459.5 2312.6 1459.5 2314.9 1458.0 2317.2 1456.4 2319.5 1456.3 2321.8 1455.3 2324.1 1454.1 2326.4 1453.0 2328.7 1451.4 2331.0 1450.3 2333.3 1448.8 2335.6 1447.4 2337.9 1447.0 2340.2 1444.5 2342.5 1442.7 2344.8 1442.5 2347.1 1440.7 2349.4 1439.4 2351.7 1438.2 2354.0 1436.2 2356.3 1434.8 2358.6 1433.2 2360.9 1433.1 2363.2 1431.9 2365.5 1430.2 2367.8 1427.7 2370.1 1427.7 2372.4 1425.9 2374.7 1423.7 2377.0 1421.1 2379.3 1420.8 2381.6 1418.6 2383.9 1416.6 2386.2 1413.4 2388.5 1412.6 2390.8 1409.2 2393.1 1407.7 2395.4 1404.9 2397.7 1403.0 2400.0 1401.7 2402.3 1399.2 2404.6 1396.9 2406.9 1393.6 2409.2 1391.3 2411.5 1389.2 2413.8 1385.6 2416.1 1383.8 2418.4 1382.2 2420.7 1379.2 2423.0 1376.8 2425.3 1373.2 2427.6 1371.3 2429.9 1368.8 2432.2 1366.1 2434.5 1363.1 2436.8 1360.1 2439.1 1357.3 2441.4 1356.4 2443.7 1354.1 2446.0 1350.6 2448.3 1349.2 2450.6 1346.3 2452.9 1344.5 2455.2 1342.7 2457.5 1339.5 2459.8 1337.9 2462.1 1335.1 2464.4 1333.5 2466.7 1330.5 2469.0 1328.9 2471.3 1326.8 2473.6 1325.9 2475.9 1322.4 2478.2 1321.5 2480.5 1318.3 2482.8 1317.8 2485.1 1314.3 2487.4 1312.1 2489.7 1310.4 2492.0 1309.7 2494.3 1307.2 2496.6 1305.6 2498.9 1303.0 2501.2 1300.2 2503.5 1298.6 2505.8 1296.7 2508.1 1295.5 2510.4 1291.9 2512.7 1289.9 2515.0 1288.8 2517.3 1285.5 2519.6 1285.1 2521.9 1282.0 2524.2 1280.7 2526.5 1279.2 2528.8 1278.1 2531.1 1275.0 2533.4 1274.9 2535.7 1272.2 2538.0 1271.8 2540.3 1269.2 2542.6 1269.2 2544.9 1266.9 2547.2 1265.8 2549.5 1264.4 2551.8 1263.9 2554.1 1262.9 2556.4 1263.2 2558.7 1261.7 2561.0 1260.4 2563.3 1260.8 2565.6 1258.5 2567.9 1257.8 2570.2 1258.4 2572.5 1257.6 2574.8 1256.4 2577.1 1256.2 2579.4 1253.8 2581.7 1254.5 2584.0 1253.5 2586.3 1252.7 2588.6 1252.3 2590.9 1250.2 2593.2 1249.7 2595.5 1248.8 2597.8 1248.7 2600.1 1248.0 2602.4 1247.3 2604.7 1246.2 2607.0 1246.0 2609.3 1245.4 2611.6 1244.5 2613.9 1242.3 2616.2 1241.7 2618.5 1241.0 2620.8 1240.2 2623.1 1239.9 2625.4 1238.3 2627.7 1238.2 2630.0 1236.8 2632.3 1235.9 2634.6 1235.7 2636.9 1235.2 2639.2 1232.8 2641.5 1232.1 2643.8 1232.2 2646.1 1229.6 2648.4 1228.1 2650.7 1227.0 2653.0 1226.7 2655.3 1225.0 2657.6 1223.8 2659.9 1221.2 2662.2 1218.6 2664.5 1217.1 2666.8 1215.8 2669.1 1213.1 2671.4 1210.4 2673.7 1208.4 2676.0 1206.1 2678.3 1203.3 2680.6 1200.8 2682.9 1197.4 2685.2 1194.3 2687.5 1192.6 2689.8 1189.3 2692.1 1185.0 2694.4 1180.2 2696.7 1175.9 2699.0 1171.4 2701.2 1166.9 2703.4 1161.2 2705.5 1157.1 2707.6 1151.2 2709.6 1145.4 2711.5 1141.1 2713.4 1135.9 2715.2 1130.8 2717.0 1125.9 2718.8 1119.6 2720.7 1115.2 2722.5 1110.8 2724.3 1104.5 2726.0 1099.2 2727.8 1094.3 2729.5 1089.3 2731.2 1084.4 2732.8 1079.0 2734.5 1074.5 2736.2 1068.4 2737.8 1063.4 2739.3 1058.7 2740.8 1053.0 2742.1 1048.2 2743.3 1042.6 2744.3 1035.9 2745.3 1030.6 2746.3 1025.7 2747.3 1020.5 2748.3 1015.0 2749.4 1010.8 2750.6 1004.8 2752.0 1000.3 2753.5 994.6 2755.0 991.0 2756.7 985.5 2758.5 981.3 2760.4 974.9 2762.4 971.0 2764.5 966.0 2766.7 960.4 2769.0 958.0 2771.3 955.5 2773.6 951.8 2775.9 951.7 2778.2 950.3 2780.5 949.2 2782.8 948.4 2785.1 947.6 2787.4 947.4 2789.7 949.0 2792.0 952.6 2793.3 959.4 2794.0 965.7 2794.6 970.9 2795.2 977.2 2795.7 983.6 2796.1 989.2 2796.5 993.8 2796.8 999.6 2797.1 1004.4 2797.4 1010.8" fill="none" stroke="none" marker-start="url(#m4)" marker-mid="url(#m4)" marker-end="url(#m4)"/>
<path d="M1875.3 1570v-10M1973.5 1570v-5M2071.7 1570v-10M2169.9 1570v-5M2268.1 1570v-10M2366.3 1570v-5M2464.5 1570v-10M2562.7 1570v-5M2660.9 1570v-10M2759.1 1570v-5M1800 1246.1h11M1800 918.5h11" stroke="#3a3a3a" stroke-width="2.6" fill="none"/>
<rect x="1795.4" y="835" width="1008" height="739.3" fill="none" stroke="#0d0d0d" stroke-width="9.2"/>
<rect x="1896" y="861.8" width="533.6" height="386" fill="#fdfdfd" stroke="#8c8c8c" stroke-width="2.8"/>
<path d="M1897 1212.6h9M1897 1142.3h9M1897 1072.0h9M1897 1001.7h9M1897 931.4h9M1897 861.1h9M1897 1177.4h5M1897 1107.1h5M1897 1036.8h5M1897 966.5h5M1897 896.2h5M1954.2 1247v-9M2026.2 1247v-4M2098.2 1247v-9M2170.2 1247v-4M2242.2 1247v-9M2314.2 1247v-4M2386.2 1247v-9" stroke="#8c8c8c" stroke-width="2.2" fill="none"/>
<path d="M1954.2 888.9 L1962.7 986.3 L1971.3 1115.1 L1978.3 1212.6" stroke="#e8707c" stroke-width="2.6" fill="none"/>
<g fill="#e02a3c"><circle cx="1954.2" cy="888.9" r="6.8"/><circle cx="1962.7" cy="986.3" r="6.8"/><circle cx="1971.3" cy="1115.1" r="6.8"/><circle cx="1978.3" cy="1212.6" r="6.8"/></g>
<path d="M2116.2 888.9 L2126.9 986.3 L2144.8 1115.1 L2158.9 1212.6" stroke="#7f8cd4" stroke-width="2.6" fill="none"/>
<g fill="#3a50b8"><circle cx="2116.2" cy="888.9" r="6.8"/><circle cx="2126.9" cy="986.3" r="6.8"/><circle cx="2144.8" cy="1115.1" r="6.8"/><circle cx="2158.9" cy="1212.6" r="6.8"/></g>
<path d="M2315.6 888.9 L2339.0 986.3 L2358.3 1115.1 L2381.7 1212.6" stroke="#6fbf7a" stroke-width="2.6" fill="none"/>
<g fill="#2e9440"><path d="M2308.6 888.9h14" stroke="#2e9440" stroke-width="2.4"/><circle cx="2315.6" cy="888.9" r="6.8"/><path d="M2331.0 986.3h16" stroke="#2e9440" stroke-width="2.4"/><circle cx="2339.0" cy="986.3" r="6.8"/><path d="M2346.3 1115.1h24" stroke="#2e9440" stroke-width="2.4"/><circle cx="2358.3" cy="1115.1" r="6.8"/><path d="M2373.7 1212.6h16" stroke="#2e9440" stroke-width="2.4"/><circle cx="2381.7" cy="1212.6" r="6.8"/></g>
<text x="1883.0" y="870.6" font-size="29.5" text-anchor="end" textLength="45.5">2.5</text>
<text x="1883.0" y="940.9" font-size="29.5" text-anchor="end" textLength="45.5">2.0</text>
<text x="1883.0" y="1011.2" font-size="29.5" text-anchor="end" textLength="45.5">1.5</text>
<text x="1883.0" y="1081.5" font-size="29.5" text-anchor="end" textLength="45.5">1.0</text>
<text x="1883.0" y="1151.8" font-size="29.5" text-anchor="end" textLength="45.5">0.5</text>
<text x="1885.0" y="1222.1" font-size="29.5" text-anchor="end">0</text>
<text x="1954.2" y="1279.5" font-size="29.5" text-anchor="middle">2</text>
<text x="2098.2" y="1279.5" font-size="29.5" text-anchor="middle">3</text>
<text x="2242.2" y="1279.5" font-size="29.5" text-anchor="middle">4</text>
<text x="2386.2" y="1279.5" font-size="29.5" text-anchor="middle">5</text>
<text x="2047.4" y="1323.0" font-size="34" textLength="235.0">1000/T (1/K)</text>
<text x="1830.5" y="1116.0" font-size="34" textLength="137.5" transform="rotate(-90 1830.5 1116.0)">ln(f/Hz)</text>
<text x="1911.8" y="940.3" font-size="26.5" textLength="186.5"><tspan font-style="italic">E</tspan><tspan font-size="17" dy="5">β</tspan><tspan dy="-5"> = 1.223 eV</tspan></text>
<text x="2132.5" y="941.4" font-size="26.5" textLength="192.5"><tspan font-style="italic">E</tspan><tspan font-size="17" dy="5">β′</tspan><tspan dy="-5"> = 0.661 eV</tspan></text>
<text x="1988.7" y="1049.0" font-size="27">β</text>
<text x="2176.3" y="1049.0" font-size="27" textLength="24.0">β′</text>
<text x="2371.3" y="1049.0" font-size="27">γ</text>
<text x="1997.0" y="1164.3" font-size="26.5" textLength="132.0"><tspan font-style="italic">R</tspan><tspan font-size="17" dy="-10">2</tspan><tspan dy="10"> &gt; 0.985</tspan></text>
<text x="2178.2" y="1196.6" font-size="26.5" textLength="191.5"><tspan font-style="italic">E</tspan>γ = 0.446 eV</text>
<text x="2446.0" y="916.0" font-size="42" textLength="263.0">Dy<tspan font-size="29" dy="8">55</tspan><tspan dy="-8">Co</tspan><tspan font-size="29" dy="8">20</tspan><tspan dy="-8">Al</tspan><tspan font-size="29" dy="8">25</tspan></text>
<circle cx="2572" cy="1355.7" r="4.4" fill="#b2b2b2" fill-opacity="0.35" stroke="#b2b2b2" stroke-width="3"/>
<text x="2595.0" y="1366.0" font-size="55" textLength="125.0">1 Hz</text>
<circle cx="2572" cy="1410.0" r="4.4" fill="#98d09c" fill-opacity="0.35" stroke="#98d09c" stroke-width="3"/>
<text x="2595.0" y="1422.0" font-size="55" textLength="125.0">2 Hz</text>
<circle cx="2572" cy="1464.4" r="4.4" fill="#a3a3e0" fill-opacity="0.35" stroke="#a3a3e0" stroke-width="3"/>
<text x="2595.0" y="1478.0" font-size="55" textLength="125.0">5 Hz</text>
<circle cx="2572" cy="1519.2" r="4.4" fill="#ee8c9c" fill-opacity="0.35" stroke="#ee8c9c" stroke-width="3"/>
<text x="2595.0" y="1534.0" font-size="55" textLength="158.0">10 Hz</text>
<text x="1684.0" y="933.6" font-size="55" letter-spacing="5">10<tspan font-size="37" dy="-19.5" dx="1">4</tspan></text>
<text x="1684.0" y="1260.9" font-size="55" letter-spacing="5">10<tspan font-size="37" dy="-19.5" dx="1">3</tspan></text>
<text x="1684.0" y="1588.0" font-size="55" letter-spacing="5">10<tspan font-size="37" dy="-19.5" dx="1">2</tspan></text>
<text x="1875.3" y="1636.0" font-size="55" text-anchor="middle" textLength="92.0">200</text>
<text x="2071.7" y="1636.0" font-size="55" text-anchor="middle" textLength="92.0">300</text>
<text x="2268.1" y="1636.0" font-size="55" text-anchor="middle" textLength="92.0">400</text>
<text x="2464.5" y="1636.0" font-size="55" text-anchor="middle" textLength="92.0">500</text>
<text x="2660.9" y="1636.0" font-size="55" text-anchor="middle" textLength="92.0">600</text>
<text x="2066.0" y="1693.5" font-size="56" textLength="413.0">temperature/K</text>
<text x="1655.5" y="1281.0" font-size="57" textLength="225.0" transform="rotate(-90 1655.5 1281.0)"><tspan font-style="italic">E″</tspan>/MPa</text>
</g>
</svg>
</body></html>
